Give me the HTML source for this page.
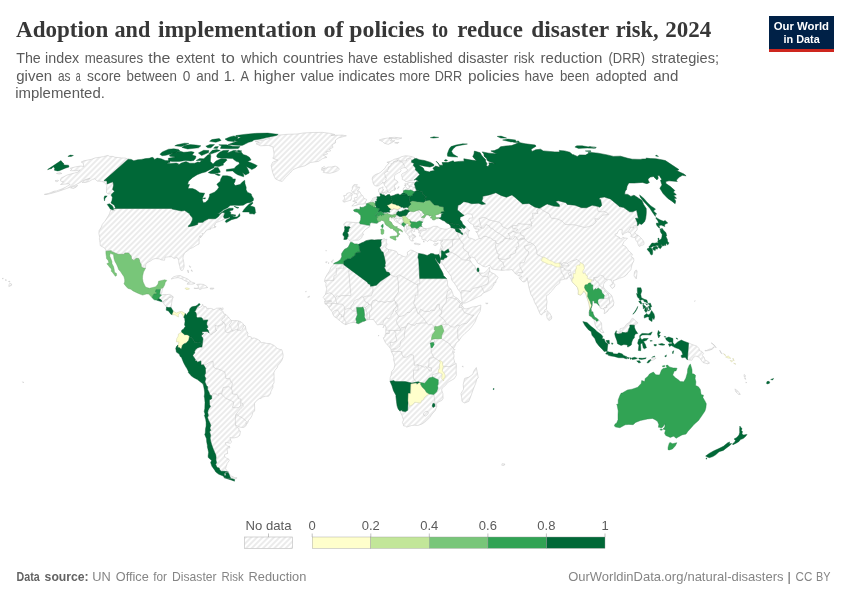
<!DOCTYPE html><html><head><meta charset="utf-8"><title>Adoption and implementation of policies to reduce disaster risk, 2024</title>
<style>html,body{margin:0;padding:0;background:#fff}svg{display:block;will-change:transform}text{white-space:pre}</style></head><body>
<svg width="850" height="600" viewBox="0 0 850 600">
<defs><pattern id="h" patternUnits="userSpaceOnUse" width="4.00" height="4.00" patternTransform="translate(-0.50,0) rotate(-45)"><rect width="4.00" height="4.00" fill="#fff"/><path d="M-1,2.000L5.00,2.000" stroke="#dcdcdc" stroke-width="1.1"/></pattern></defs>
<rect width="850" height="600" fill="#fff"/>
<text x="16.0" y="37.0" font-family="'Liberation Serif', serif" font-size="24" font-weight="bold" fill="#373737" text-anchor="start" textLength="92.2" lengthAdjust="spacingAndGlyphs">Adoption</text>
<text x="114.5" y="37.0" font-family="'Liberation Serif', serif" font-size="24" font-weight="bold" fill="#373737" text-anchor="start" textLength="35.7" lengthAdjust="spacingAndGlyphs">and</text>
<text x="157.9" y="37.0" font-family="'Liberation Serif', serif" font-size="24" font-weight="bold" fill="#373737" text-anchor="start" textLength="158.4" lengthAdjust="spacingAndGlyphs">implementation</text>
<text x="323.5" y="37.0" font-family="'Liberation Serif', serif" font-size="24" font-weight="bold" fill="#373737" text-anchor="start" textLength="20.1" lengthAdjust="spacingAndGlyphs">of</text>
<text x="349.3" y="37.0" font-family="'Liberation Serif', serif" font-size="24" font-weight="bold" fill="#373737" text-anchor="start" textLength="75.2" lengthAdjust="spacingAndGlyphs">policies</text>
<text x="431.8" y="37.0" font-family="'Liberation Serif', serif" font-size="24" font-weight="bold" fill="#373737" text-anchor="start" textLength="16.4" lengthAdjust="spacingAndGlyphs">to</text>
<text x="457.2" y="37.0" font-family="'Liberation Serif', serif" font-size="24" font-weight="bold" fill="#373737" text-anchor="start" textLength="65.6" lengthAdjust="spacingAndGlyphs">reduce</text>
<text x="531.2" y="37.0" font-family="'Liberation Serif', serif" font-size="24" font-weight="bold" fill="#373737" text-anchor="start" textLength="78.0" lengthAdjust="spacingAndGlyphs">disaster</text>
<text x="615.7" y="37.0" font-family="'Liberation Serif', serif" font-size="24" font-weight="bold" fill="#373737" text-anchor="start" textLength="42.9" lengthAdjust="spacingAndGlyphs">risk,</text>
<text x="665.2" y="37.0" font-family="'Liberation Serif', serif" font-size="24" font-weight="bold" fill="#373737" text-anchor="start" textLength="46.1" lengthAdjust="spacingAndGlyphs">2024</text>
<text x="16.2" y="62.7" font-family="'Liberation Sans', sans-serif" font-size="15" font-weight="normal" fill="#5b5b5b" text-anchor="start" textLength="24.6" lengthAdjust="spacingAndGlyphs">The</text>
<text x="45.1" y="62.7" font-family="'Liberation Sans', sans-serif" font-size="15" font-weight="normal" fill="#5b5b5b" text-anchor="start" textLength="34.1" lengthAdjust="spacingAndGlyphs">index</text>
<text x="84.8" y="62.7" font-family="'Liberation Sans', sans-serif" font-size="15" font-weight="normal" fill="#5b5b5b" text-anchor="start" textLength="58.3" lengthAdjust="spacingAndGlyphs">measures</text>
<text x="148.3" y="62.7" font-family="'Liberation Sans', sans-serif" font-size="15" font-weight="normal" fill="#5b5b5b" text-anchor="start" textLength="22.2" lengthAdjust="spacingAndGlyphs">the</text>
<text x="176.0" y="62.7" font-family="'Liberation Sans', sans-serif" font-size="15" font-weight="normal" fill="#5b5b5b" text-anchor="start" textLength="38.7" lengthAdjust="spacingAndGlyphs">extent</text>
<text x="221.2" y="62.7" font-family="'Liberation Sans', sans-serif" font-size="15" font-weight="normal" fill="#5b5b5b" text-anchor="start" textLength="13.6" lengthAdjust="spacingAndGlyphs">to</text>
<text x="241.1" y="62.7" font-family="'Liberation Sans', sans-serif" font-size="15" font-weight="normal" fill="#5b5b5b" text-anchor="start" textLength="36.6" lengthAdjust="spacingAndGlyphs">which</text>
<text x="283.0" y="62.7" font-family="'Liberation Sans', sans-serif" font-size="15" font-weight="normal" fill="#5b5b5b" text-anchor="start" textLength="60.6" lengthAdjust="spacingAndGlyphs">countries</text>
<text x="347.9" y="62.7" font-family="'Liberation Sans', sans-serif" font-size="15" font-weight="normal" fill="#5b5b5b" text-anchor="start" textLength="30.0" lengthAdjust="spacingAndGlyphs">have</text>
<text x="383.2" y="62.7" font-family="'Liberation Sans', sans-serif" font-size="15" font-weight="normal" fill="#5b5b5b" text-anchor="start" textLength="69.5" lengthAdjust="spacingAndGlyphs">established</text>
<text x="458.1" y="62.7" font-family="'Liberation Sans', sans-serif" font-size="15" font-weight="normal" fill="#5b5b5b" text-anchor="start" textLength="50.1" lengthAdjust="spacingAndGlyphs">disaster</text>
<text x="513.8" y="62.7" font-family="'Liberation Sans', sans-serif" font-size="15" font-weight="normal" fill="#5b5b5b" text-anchor="start" textLength="20.5" lengthAdjust="spacingAndGlyphs">risk</text>
<text x="540.6" y="62.7" font-family="'Liberation Sans', sans-serif" font-size="15" font-weight="normal" fill="#5b5b5b" text-anchor="start" textLength="61.8" lengthAdjust="spacingAndGlyphs">reduction</text>
<text x="608.5" y="62.7" font-family="'Liberation Sans', sans-serif" font-size="15" font-weight="normal" fill="#5b5b5b" text-anchor="start" textLength="36.6" lengthAdjust="spacingAndGlyphs">(DRR)</text>
<text x="651.6" y="62.7" font-family="'Liberation Sans', sans-serif" font-size="15" font-weight="normal" fill="#5b5b5b" text-anchor="start" textLength="67.4" lengthAdjust="spacingAndGlyphs">strategies;</text>
<text x="16.2" y="80.5" font-family="'Liberation Sans', sans-serif" font-size="15" font-weight="normal" fill="#5b5b5b" text-anchor="start" textLength="35.9" lengthAdjust="spacingAndGlyphs">given</text>
<text x="58.0" y="80.5" font-family="'Liberation Sans', sans-serif" font-size="15" font-weight="normal" fill="#5b5b5b" text-anchor="start" textLength="12.5" lengthAdjust="spacingAndGlyphs">as</text>
<text x="75.8" y="80.5" font-family="'Liberation Sans', sans-serif" font-size="15" font-weight="normal" fill="#5b5b5b" text-anchor="start" textLength="4.9" lengthAdjust="spacingAndGlyphs">a</text>
<text x="87.1" y="80.5" font-family="'Liberation Sans', sans-serif" font-size="15" font-weight="normal" fill="#5b5b5b" text-anchor="start" textLength="33.9" lengthAdjust="spacingAndGlyphs">score</text>
<text x="126.6" y="80.5" font-family="'Liberation Sans', sans-serif" font-size="15" font-weight="normal" fill="#5b5b5b" text-anchor="start" textLength="50.3" lengthAdjust="spacingAndGlyphs">between</text>
<text x="182.8" y="80.5" font-family="'Liberation Sans', sans-serif" font-size="15" font-weight="normal" fill="#5b5b5b" text-anchor="start" textLength="7.6" lengthAdjust="spacingAndGlyphs">0</text>
<text x="196.3" y="80.5" font-family="'Liberation Sans', sans-serif" font-size="15" font-weight="normal" fill="#5b5b5b" text-anchor="start" textLength="22.4" lengthAdjust="spacingAndGlyphs">and</text>
<text x="223.7" y="80.5" font-family="'Liberation Sans', sans-serif" font-size="15" font-weight="normal" fill="#5b5b5b" text-anchor="start" textLength="11.9" lengthAdjust="spacingAndGlyphs">1.</text>
<text x="240.6" y="80.5" font-family="'Liberation Sans', sans-serif" font-size="15" font-weight="normal" fill="#5b5b5b" text-anchor="start" textLength="8.5" lengthAdjust="spacingAndGlyphs">A</text>
<text x="253.8" y="80.5" font-family="'Liberation Sans', sans-serif" font-size="15" font-weight="normal" fill="#5b5b5b" text-anchor="start" textLength="41.3" lengthAdjust="spacingAndGlyphs">higher</text>
<text x="300.5" y="80.5" font-family="'Liberation Sans', sans-serif" font-size="15" font-weight="normal" fill="#5b5b5b" text-anchor="start" textLength="33.6" lengthAdjust="spacingAndGlyphs">value</text>
<text x="338.5" y="80.5" font-family="'Liberation Sans', sans-serif" font-size="15" font-weight="normal" fill="#5b5b5b" text-anchor="start" textLength="56.4" lengthAdjust="spacingAndGlyphs">indicates</text>
<text x="399.3" y="80.5" font-family="'Liberation Sans', sans-serif" font-size="15" font-weight="normal" fill="#5b5b5b" text-anchor="start" textLength="30.8" lengthAdjust="spacingAndGlyphs">more</text>
<text x="434.7" y="80.5" font-family="'Liberation Sans', sans-serif" font-size="15" font-weight="normal" fill="#5b5b5b" text-anchor="start" textLength="27.5" lengthAdjust="spacingAndGlyphs">DRR</text>
<text x="468.0" y="80.5" font-family="'Liberation Sans', sans-serif" font-size="15" font-weight="normal" fill="#5b5b5b" text-anchor="start" textLength="51.4" lengthAdjust="spacingAndGlyphs">policies</text>
<text x="524.5" y="80.5" font-family="'Liberation Sans', sans-serif" font-size="15" font-weight="normal" fill="#5b5b5b" text-anchor="start" textLength="29.3" lengthAdjust="spacingAndGlyphs">have</text>
<text x="560.0" y="80.5" font-family="'Liberation Sans', sans-serif" font-size="15" font-weight="normal" fill="#5b5b5b" text-anchor="start" textLength="29.4" lengthAdjust="spacingAndGlyphs">been</text>
<text x="595.6" y="80.5" font-family="'Liberation Sans', sans-serif" font-size="15" font-weight="normal" fill="#5b5b5b" text-anchor="start" textLength="51.4" lengthAdjust="spacingAndGlyphs">adopted</text>
<text x="653.2" y="80.5" font-family="'Liberation Sans', sans-serif" font-size="15" font-weight="normal" fill="#5b5b5b" text-anchor="start" textLength="25.2" lengthAdjust="spacingAndGlyphs">and</text>
<text x="15.2" y="98.3" font-family="'Liberation Sans', sans-serif" font-size="15" font-weight="normal" fill="#5b5b5b" text-anchor="start" textLength="89.7" lengthAdjust="spacingAndGlyphs">implemented.</text>
<rect x="769" y="16" width="65" height="36" fill="#002147"/><rect x="769" y="49" width="65" height="3" fill="#ce261e"/>
<text x="801.4" y="30.2" font-family="'Liberation Sans', sans-serif" font-size="11.5" font-weight="bold" fill="#fff" text-anchor="middle" textLength="55.2" lengthAdjust="spacingAndGlyphs">Our World</text>
<text x="801.6" y="42.8" font-family="'Liberation Sans', sans-serif" font-size="11.5" font-weight="bold" fill="#fff" text-anchor="middle" textLength="36.3" lengthAdjust="spacingAndGlyphs">in Data</text>
<g id="map">
<g fill="url(#h)" stroke="#c2c2c2" stroke-width="0.5" stroke-linejoin="round" fill-rule="evenodd">
<path d="M114.5,208.5L114.5,211.0L113.9,210.3L110.7,210.0L109.4,213.8L108.5,215.6L104.9,221.3L102.3,224.4L101.4,227.0L99.1,230.6L98.9,233.4L99.4,236.0L99.8,237.3L99.3,238.9L99.7,240.5L100.0,242.8L100.3,245.7L102.8,247.0L104.3,247.8L105.9,249.9L105.9,251.2L111.3,250.7L110.9,251.2L118.0,254.3L124.4,254.3L124.8,253.0L128.6,253.0L131.2,256.1L131.5,258.9L133.9,260.4L135.9,258.4L138.3,258.3L139.5,260.1L139.8,262.2L141.1,264.2L141.3,267.1L143.2,268.0L145.5,268.3L145.7,264.8L147.0,262.9L150.8,260.8L152.9,259.3L155.1,258.5L159.1,258.8L161.0,259.8L164.5,260.3L165.0,257.2L168.4,256.9L171.7,256.7L174.0,258.5L177.1,257.4L178.7,260.1L178.8,262.9L179.8,266.3L180.1,268.4L181.1,270.4L182.7,270.3L183.7,268.2L184.2,266.1L183.7,261.9L182.9,258.2L183.2,255.9L184.5,253.3L185.1,252.5L187.7,250.7L190.2,248.6L192.9,247.5L196.1,245.4L199.1,244.0L199.1,240.5L199.2,239.6L199.2,237.1L200.3,235.5L200.3,237.9L202.2,235.8L202.5,234.7L202.1,233.2L203.1,234.2L205.4,232.1L206.2,230.3L210.8,229.0L209.9,228.4L212.2,228.0L213.1,227.7L214.2,227.7L215.5,227.3L216.0,226.3L214.6,227.0L214.6,225.8L214.0,225.7L215.1,224.8L215.3,223.6L216.7,222.3L219.6,221.3L221.5,220.5L224.4,219.2L224.7,218.4L223.5,216.9L224.7,213.3L224.0,212.6L222.1,212.6L219.8,214.6L218.5,216.4L216.6,217.9L215.3,218.7L208.6,218.7L204.6,220.8L203.0,222.3L198.3,222.6L197.7,223.6L197.6,224.4L192.9,225.9L188.4,226.7L188.5,225.7L190.5,223.9L192.4,220.0L192.6,217.9L191.3,216.6L191.0,215.9L190.0,214.9L189.6,213.8L184.7,210.5L181.5,211.0L179.1,210.5L176.9,210.0L174.1,209.5L172.1,209.0L171.3,208.5L114.5,208.5Z"/>
<path d="M128.2,159.2L125.4,158.1L121.6,157.9L118.0,157.5L115.0,157.3L113.0,156.4L109.7,156.4L107.9,155.4L103.6,156.6L99.4,157.3L95.1,157.9L91.2,159.4L83.9,160.8L81.2,162.0L82.3,162.8L83.6,163.7L83.4,165.0L83.9,166.6L80.8,166.0L75.8,166.8L70.3,168.2L71.5,169.3L70.3,170.6L71.6,170.7L75.8,170.7L80.2,170.0L77.9,172.1L74.6,173.0L70.8,174.0L67.0,175.1L63.3,177.0L61.5,177.7L60.7,179.1L60.4,180.1L60.9,181.3L63.3,181.5L62.6,183.0L60.5,184.5L63.9,184.2L68.2,183.7L70.2,184.4L65.8,187.1L62.2,188.8L56.4,191.0L54.2,191.2L48.4,193.5L44.3,194.4L47.0,194.4L50.9,193.5L56.3,192.0L60.9,190.5L66.6,188.5L71.6,186.6L75.0,185.1L77.9,183.7L82.1,181.3L85.2,179.6L89.8,178.4L85.6,180.1L82.2,182.5L85.3,182.5L89.3,181.4L92.4,179.4L94.8,178.9L95.8,179.6L97.1,181.1L101.4,181.3L103.4,182.0L104.4,182.5L105.9,184.2L106.9,185.6L106.4,188.5L106.5,190.5L106.5,192.7L108.3,193.9L111.8,193.9L114.5,191.2L112.6,189.5L113.6,185.1L112.9,181.8L107.1,183.9L107.0,181.1L104.0,180.6L128.2,159.2ZM70.6,187.8L73.3,188.5L76.3,187.1L77.6,185.4L73.4,186.6ZM56.5,173.5L59.1,174.0L61.9,173.5L60.1,172.6ZM55.0,180.8L56.9,181.8L58.6,180.6L57.4,180.3Z"/>
<path d="M8.8,286.5L11.4,285.4L11.7,284.1L9.9,283.1L9.1,284.6ZM8.5,281.5L9.9,282.0L9.7,281.2ZM5.2,280.2L6.4,280.4L6.0,279.4ZM2.2,278.6L3.2,278.9L3.2,278.1Z"/>
<path d="M160.3,289.6L160.5,289.1L162.0,287.8L162.9,288.0L162.2,290.1L161.8,292.7L160.3,294.6L159.6,294.6L160.3,289.6Z"/>
<path d="M158.8,298.5L159.3,297.2L161.6,295.1L163.0,294.6L166.9,294.6L169.2,294.3L171.4,295.3L173.2,296.9L169.1,297.4L167.1,299.8L164.7,300.0L162.9,302.3L162.4,301.2L162.1,301.1L160.7,299.5L158.8,298.5Z"/>
<path d="M162.9,302.3L164.7,300.0L167.1,299.8L169.1,297.4L173.2,296.9L172.3,299.5L171.6,303.4L171.1,307.6L168.3,307.5L166.5,307.1L164.4,304.5L162.9,302.3Z"/>
<path d="M171.2,279.0L173.7,276.8L176.5,275.9L180.1,275.6L183.7,277.3L187.6,278.9L191.5,282.0L195.1,283.3L193.1,284.1L187.0,284.2L188.6,282.3L185.5,281.0L181.3,278.6L178.1,277.6L174.6,278.1Z"/>
<path d="M193.9,288.2L196.2,288.5L198.9,287.5L197.9,285.7L196.7,284.4L199.9,284.1L203.3,284.4L205.9,285.7L207.8,287.5L205.2,288.0L202.4,288.3L200.0,289.6L198.3,288.5Z"/>
<path d="M210.4,288.0L214.0,288.2L213.3,289.1L210.3,289.1Z"/>
<path d="M187.4,270.3L188.4,272.9L188.3,270.3ZM189.2,265.8L190.9,266.9L190.3,267.6ZM191.0,270.0L192.2,271.6L191.9,270.0Z"/>
<path d="M221.0,309.7L223.0,309.7L223.1,307.9L221.5,308.1Z"/>
<path d="M255.2,141.5L264.0,140.0L270.0,138.1L268.2,136.9L276.7,135.3L287.2,134.3L297.1,134.0L303.3,133.0L311.7,132.5L322.6,132.4L330.4,133.4L334.8,134.5L331.1,135.4L342.3,135.1L346.4,135.8L338.9,137.8L335.5,140.0L335.5,142.8L332.0,144.8L333.0,147.4L329.4,149.2L330.7,150.9L325.7,151.9L327.6,154.0L323.3,155.1L326.9,157.3L322.5,158.6L318.5,161.4L310.6,162.5L304.6,165.9L298.1,167.5L293.0,169.6L290.2,173.0L285.4,177.7L282.2,181.5L279.5,180.8L275.5,178.9L273.9,175.8L272.6,172.3L272.0,169.6L271.2,165.5L272.6,162.3L277.8,160.1L272.8,158.3L273.9,156.2L274.0,153.0L273.4,149.8L272.9,146.8L268.5,145.4L260.6,145.8L256.1,143.8L259.4,142.6Z"/>
<path d="M228.4,472.9L229.7,474.5L231.8,476.3L234.5,477.5L237.1,477.9L235.1,478.9L230.8,478.5Z"/>
<path d="M199.6,305.1L198.2,306.8L198.8,307.6L200.2,307.4L201.9,306.3L202.7,304.2L203.0,306.1L206.2,306.8L206.6,308.4L209.5,308.4L211.4,308.4L213.8,309.7L215.5,308.9L216.4,308.3L219.0,308.1L221.0,308.1L219.4,309.5L220.0,310.0L221.6,310.2L223.2,311.8L223.6,313.6L225.6,314.4L228.5,317.0L229.2,318.3L231.5,320.6L234.4,320.6L236.2,320.6L238.8,321.0L241.3,322.0L242.6,323.3L244.1,325.3L245.3,325.9L246.2,330.6L248.0,333.2L247.3,335.3L247.8,336.1L251.2,336.9L251.5,338.5L254.0,337.9L257.0,339.0L260.0,340.8L261.0,342.9L263.3,342.4L266.7,343.4L270.0,343.6L273.2,345.0L274.4,345.8L277.2,348.4L279.7,349.4L281.8,349.7L282.6,352.3L283.1,354.8L282.9,357.5L281.8,360.4L279.8,363.3L278.0,365.4L277.0,368.0L275.0,370.1L273.9,372.7L274.1,376.6L274.1,380.5L274.0,382.9L272.9,384.5L272.9,387.6L271.9,389.4L270.7,392.0L270.6,393.6L268.5,396.2L265.8,396.2L262.7,397.0L261.0,398.3L259.0,398.8L255.6,401.7L254.5,403.5L254.5,405.9L254.7,408.2L254.6,410.9L252.8,412.7L251.9,415.8L250.3,418.4L248.6,420.3L247.7,422.9L246.4,424.3L245.8,426.0L243.7,427.4L240.8,427.3L237.1,426.1L235.5,424.7L235.9,426.5L238.9,428.4L239.1,430.7L240.5,431.2L239.7,435.4L237.5,437.0L234.9,437.7L231.7,438.0L229.9,437.5L230.7,440.1L231.5,442.2L230.3,443.2L227.6,442.7L225.3,442.7L226.0,444.5L228.0,446.6L229.4,446.0L229.9,447.8L228.1,448.1L227.1,448.4L227.3,450.9L227.7,453.5L224.8,454.3L224.4,456.1L226.9,458.6L228.6,458.9L229.2,460.6L227.0,463.7L226.9,464.5L226.1,466.8L225.5,468.8L226.7,470.3L228.5,472.2L225.0,471.3L221.2,471.3L219.9,470.0L219.1,468.0L217.1,467.5L215.6,464.5L216.6,462.7L215.9,459.9L216.1,457.6L215.8,455.1L214.7,452.5L213.5,449.7L212.5,447.1L211.6,444.5L210.6,441.1L210.1,438.0L210.7,435.4L209.5,431.7L210.7,430.4L209.9,428.1L210.8,425.5L209.7,422.4L208.6,420.5L207.5,417.4L208.4,415.3L207.7,412.7L208.0,410.6L209.0,408.5L210.5,406.4L209.6,404.8L209.4,402.0L209.4,400.1L211.7,398.8L211.6,395.7L209.9,394.9L209.0,392.3L207.5,389.2L207.7,386.8L206.4,385.5L204.9,381.8L205.8,378.4L204.6,376.1L205.0,374.3L205.6,373.2L205.4,369.4L205.8,368.8L203.5,364.7L201.1,364.9L200.9,360.9L197.3,362.2L196.8,360.9L194.9,360.7L195.4,359.5L192.8,355.7L193.5,354.1L194.8,353.1L194.5,351.8L195.2,350.0L197.4,347.9L199.9,347.1L201.9,347.1L203.0,339.0L202.5,337.4L201.5,336.6L201.5,334.7L203.0,334.3L203.5,333.5L202.0,333.4L202.0,331.7L206.5,331.5L208.3,331.7L208.9,333.0L208.1,330.1L206.6,328.8L207.9,327.2L206.7,324.3L206.9,322.3L207.8,319.9L203.3,320.2L202.0,317.9L200.4,317.6L197.4,317.8L196.5,316.8L196.4,314.2L195.8,312.3L194.5,312.1L195.4,310.5L197.2,307.1L199.6,305.1Z"/>
<path d="M351.8,205.8L353.2,205.9L356.0,205.4L358.2,204.6L360.6,204.1L363.8,204.1L366.0,203.1L365.0,202.2L366.3,200.7L366.6,199.4L364.0,198.4L363.4,197.2L362.8,195.7L360.9,194.3L360.1,192.2L359.2,191.2L357.1,191.0L358.2,190.3L359.2,188.5L359.8,187.3L357.0,186.8L355.5,187.1L357.4,184.7L353.9,184.7L352.3,187.1L352.4,189.3L351.4,190.3L352.6,192.5L354.0,191.7L353.9,193.7L356.4,193.7L357.4,195.7L357.1,197.4L354.6,197.7L354.2,198.9L355.1,200.2L352.7,201.2L354.9,201.9L357.0,202.7L354.8,202.9L353.0,204.9Z"/>
<path d="M351.1,195.7L351.5,197.7L351.0,200.2L349.6,200.5L346.8,201.4L343.8,202.2L342.7,200.7L344.5,199.4L344.6,197.7L343.6,195.7L346.5,195.2L346.8,193.5L349.2,192.7L351.5,193.0L352.6,194.4L352.5,195.2Z"/>
<path d="M323.1,172.3L327.0,173.0L329.8,173.3L333.9,172.3L337.4,170.9L339.4,169.3L337.9,167.3L335.2,166.1L331.6,167.0L328.0,167.0L325.7,168.4L324.3,166.4L321.4,168.2L324.8,168.6L321.1,169.8L324.4,170.9Z"/>
<path d="M384.7,191.7L386.1,190.7L387.3,190.9L387.4,192.0L387.0,192.8L386.3,193.6L384.7,193.0ZM382.0,192.2L383.7,192.1L384.0,193.2L382.5,193.3ZM414.4,243.3L415.7,243.1L419.3,243.9L420.4,244.1L418.7,244.8L416.3,244.4L414.3,244.0ZM433.5,244.6L435.1,245.7L437.2,244.6L438.3,242.9L436.2,243.7L434.7,243.7ZM413.0,234.5L415.0,235.3L415.9,237.0L413.7,235.3ZM423.3,241.0L424.2,241.0L423.9,242.3ZM397.5,188.5L398.9,186.4L398.7,187.8ZM394.5,190.5L395.5,187.8L395.3,189.0ZM404.4,185.4L406.2,184.7L405.8,186.1ZM404.7,183.9L406.0,183.7L405.4,184.4Z"/>
<path d="M379.2,140.0L383.4,138.7L387.6,138.1L392.1,138.9L390.4,140.9L394.8,140.7L391.6,142.8L388.2,144.4L384.2,143.2L382.4,141.5ZM388.9,137.8L394.5,137.3L401.9,138.0L398.0,139.2L391.9,138.3ZM394.6,142.8L398.9,142.3L397.8,143.4Z"/>
<path d="M350.3,242.6L351.7,242.3L354.7,244.0L356.8,243.9L358.4,244.4L361.8,242.8L363.4,242.2L366.0,240.7L369.8,239.9L371.8,239.7L374.2,240.1L378.1,239.7L379.9,239.7L381.8,239.6L384.4,238.6L385.4,239.7L387.0,239.2L386.1,241.0L386.3,242.6L387.2,244.1L386.6,245.4L385.3,247.5L386.6,248.0L387.5,249.1L388.5,249.5L392.2,250.1L396.4,251.4L397.8,254.1L399.8,254.6L404.1,256.7L405.7,256.9L407.5,255.1L407.3,252.2L410.6,250.1L412.9,250.5L415.9,252.2L418.6,253.4L423.3,254.2L427.2,255.5L429.2,254.6L430.2,253.8L431.5,253.5L433.4,253.8L434.5,254.4L435.8,254.8L437.8,254.7L438.7,254.3L440.7,259.0L440.3,260.6L440.0,262.9L439.6,263.7L438.0,262.3L436.5,260.3L435.3,257.8L435.1,259.0L435.9,260.6L437.2,262.4L438.7,264.9L440.0,267.9L441.6,270.6L443.1,273.7L443.4,275.5L446.6,278.6L447.4,281.2L447.6,284.9L448.2,287.0L451.0,289.1L452.3,292.2L453.3,295.3L454.6,296.9L457.4,298.2L460.3,301.6L461.1,302.1L462.1,302.9L462.5,304.7L461.2,305.8L462.2,305.9L462.4,306.2L464.3,308.8L466.6,308.8L470.0,307.9L472.2,307.0L476.1,306.6L479.0,305.5L480.9,305.1L480.6,308.9L480.0,311.5L477.8,315.2L476.5,318.3L475.0,322.1L472.5,325.7L470.0,328.8L467.9,330.8L464.8,333.5L461.4,337.0L459.1,340.4L457.6,342.1L456.0,343.2L455.7,344.5L454.6,346.7L453.6,348.3L452.6,351.8L453.7,353.9L454.1,356.2L453.6,358.3L454.0,359.4L454.6,362.2L455.5,363.0L456.1,363.6L456.4,366.2L456.1,370.0L456.3,374.0L456.3,375.4L454.2,378.7L449.7,381.3L447.2,382.9L445.7,385.2L442.2,388.0L441.6,389.9L442.5,392.6L442.9,393.6L443.1,398.4L441.9,400.4L438.9,401.8L436.3,403.9L436.8,406.3L435.4,410.3L432.0,414.1L429.9,417.3L425.6,421.6L424.4,422.4L422.1,423.9L419.3,425.0L417.4,425.5L414.3,425.2L411.5,425.5L406.7,427.1L405.3,426.0L403.6,425.9L403.4,424.7L402.4,422.5L403.5,420.0L402.1,415.8L400.7,412.6L399.8,410.9L398.2,409.0L397.1,405.8L396.5,401.4L395.9,396.1L396.0,395.3L393.5,390.7L392.0,385.8L390.0,381.2L390.2,377.4L390.9,375.8L391.8,371.4L393.9,369.0L394.9,364.9L393.5,359.2L394.0,358.1L392.7,354.1L391.4,351.8L391.3,351.1L390.9,349.2L390.5,348.7L388.8,346.4L386.3,343.7L385.3,342.4L384.7,341.1L383.3,337.8L384.7,337.2L385.0,335.1L385.8,333.5L385.8,330.0L386.0,328.3L385.6,325.7L383.9,325.7L382.8,324.3L379.3,324.6L377.3,324.9L375.6,322.5L373.6,319.6L371.0,319.4L369.4,319.5L367.0,319.9L366.0,320.2L364.8,321.0L362.7,321.6L360.3,322.8L358.3,323.7L356.0,322.8L354.0,322.4L350.7,322.8L348.0,323.7L345.8,324.7L342.3,323.0L340.0,320.7L338.3,319.6L336.7,318.1L334.4,316.8L332.7,313.9L332.6,312.5L331.7,311.3L329.7,308.7L328.8,307.5L327.4,305.1L324.9,303.8L324.8,302.0L324.7,301.2L325.3,300.6L324.1,298.5L323.2,297.6L324.6,295.3L325.5,294.2L326.8,288.8L325.7,285.4L326.2,283.3L324.6,281.8L324.9,278.9L326.4,275.7L327.3,274.2L329.5,271.0L330.7,267.8L333.2,265.3L333.7,263.8L334.4,263.1L337.9,261.6L340.5,259.4L341.8,256.7L341.6,253.8L342.8,251.7L344.6,249.2L346.6,248.3L348.2,247.3L349.8,244.1L350.3,242.6Z"/>
<path d="M476.3,367.5L478.3,377.7L476.8,379.2L475.6,383.5L473.1,389.7L471.3,394.9L468.8,401.4L464.6,403.0L462.0,401.4L461.6,397.1L460.9,393.6L463.6,389.2L463.2,384.5L464.6,378.4L468.9,377.1L472.7,374.3L473.8,371.1Z"/>
<path d="M502.0,463.7L504.9,464.0L504.2,465.3L501.8,465.3ZM462.3,366.4L463.0,365.9L463.0,367.2ZM325.5,262.2L327.1,261.6L326.4,262.9ZM328.0,262.9L328.9,262.7L328.6,263.6ZM331.4,261.4L332.3,261.1L332.0,262.7ZM332.5,260.3L333.4,259.8L333.2,260.6ZM307.6,297.2L309.5,296.1L309.2,297.2ZM305.5,291.7L306.2,291.2L306.2,291.9ZM378.2,336.1L378.8,335.1L378.7,335.8ZM382.8,327.5L383.7,326.3L383.5,327.5ZM485.6,303.2L488.1,303.2L487.0,304.0ZM453.5,351.8L454.0,351.3L454.2,352.8ZM454.7,349.2L454.9,350.0L454.6,350.2ZM325.9,250.4L326.5,250.7L325.6,250.8Z"/>
<path d="M414.4,158.8L414.5,157.5L410.8,156.4L408.5,156.0L405.4,155.8L401.8,156.6L399.6,157.7L397.2,158.6L394.8,159.1L392.5,160.3L390.2,161.4L386.9,162.3L389.2,163.0L387.8,164.3L385.7,166.8L385.0,168.4L382.9,170.0L380.9,172.1L378.9,173.3L375.7,174.4L372.8,176.5L372.1,178.9L372.8,180.8L373.0,183.0L373.6,183.9L374.0,184.9L375.6,185.9L376.5,186.1L378.2,185.9L379.1,185.4L380.9,183.9L382.7,183.0L382.8,181.8L383.4,183.0L384.0,183.5L384.3,185.1L385.6,186.8L386.9,188.8L387.4,190.5L387.9,192.0L388.9,192.6L390.5,192.5L390.7,191.2L393.0,190.5L394.3,189.3L394.4,186.6L394.8,184.7L396.5,183.9L398.2,182.3L396.8,180.6L394.7,179.6L394.4,177.3L394.5,175.6L396.1,174.2L398.4,172.8L400.1,172.1L401.1,170.5L400.4,169.6L401.9,168.2L403.9,167.7L405.2,167.7L407.7,169.6L406.7,171.4L404.1,172.8L401.8,174.0L401.6,175.8L402.3,177.7L402.2,179.4L404.1,180.2L405.7,181.7L409.2,180.9L412.6,180.2L414.2,180.0L415.7,179.6L418.1,181.1L418.9,181.4L416.7,181.5L415.2,182.6L411.3,182.3L409.1,182.6L406.8,183.2L407.0,184.4L409.1,185.3L409.0,186.4L409.3,188.1L408.8,188.4L407.2,188.5L405.7,186.7L403.9,187.6L403.1,189.0L403.4,190.8L403.6,192.7L401.8,193.6L401.1,194.8L399.3,194.9L398.6,193.9L397.8,193.9L395.1,194.7L394.2,195.3L390.8,196.2L390.2,195.8L389.5,194.4L387.4,194.8L386.7,195.6L385.4,196.1L384.4,196.1L384.5,194.9L382.6,194.8L381.4,193.9L381.7,193.0L382.0,192.2L382.7,190.5L383.9,189.9L382.8,189.3L382.7,188.5L383.1,186.8L381.3,187.8L379.5,188.3L378.6,189.3L378.7,191.0L378.7,192.1L379.7,192.7L379.9,193.7L380.3,195.2L380.7,195.9L379.9,196.2L379.8,196.9L378.8,196.7L376.8,196.8L377.3,197.8L375.3,197.3L373.8,197.9L372.5,198.5L372.2,199.7L371.3,200.9L370.7,201.4L369.8,202.5L368.3,203.2L366.4,203.7L366.2,205.7L363.4,207.2L361.0,207.6L360.0,206.8L360.0,209.4L359.1,209.4L356.1,209.0L353.5,210.0L354.4,211.5L357.5,212.3L358.7,213.3L360.7,215.6L360.9,217.2L360.7,219.7L359.4,222.8L355.3,222.6L351.1,222.2L346.5,221.9L343.7,223.9L344.5,226.8L344.8,229.3L344.3,231.4L343.1,233.2L342.9,234.9L343.5,235.8L344.3,236.8L344.2,238.1L343.8,239.4L345.9,239.4L347.2,238.9L348.1,238.9L349.4,239.9L349.6,240.7L351.1,242.0L351.6,241.6L353.7,240.2L355.6,240.2L358.4,240.2L359.1,239.7L361.7,237.9L362.1,236.0L363.6,234.9L362.6,232.9L365.1,229.8L367.8,228.0L369.9,226.7L369.9,225.3L369.7,223.6L371.5,222.6L374.5,223.1L377.0,223.3L378.8,221.8L380.3,221.3L381.7,220.2L384.0,221.1L384.7,222.6L385.2,224.0L386.5,225.4L387.9,226.2L388.9,227.1L390.7,228.4L392.3,228.4L393.4,229.4L393.5,230.1L394.5,229.9L395.1,231.1L396.2,231.5L397.3,233.2L397.8,234.5L397.1,235.1L396.8,236.3L396.8,236.8L397.8,237.0L398.7,235.0L399.9,234.2L398.3,232.4L398.5,231.4L399.5,230.3L401.2,231.1L402.3,232.1L402.5,231.4L401.4,229.9L399.2,228.9L396.8,227.7L397.3,226.7L395.0,226.7L392.5,224.6L391.4,222.3L388.8,220.6L389.1,219.0L388.8,217.7L390.2,216.9L391.6,217.2L391.3,217.5L391.1,218.7L392.0,219.2L392.5,218.4L392.9,217.9L394.0,218.7L394.3,220.0L394.8,220.8L396.3,222.0L397.4,222.6L398.7,223.3L400.1,224.1L401.2,224.8L401.9,225.1L402.9,225.8L404.1,226.8L404.4,228.2L404.4,230.6L405.5,231.9L405.8,232.4L407.4,234.2L408.4,235.9L409.7,236.0L409.0,237.3L409.8,239.4L410.1,239.9L411.7,241.0L413.4,240.9L412.3,238.6L413.8,238.4L412.6,237.1L414.1,237.0L414.9,237.7L414.7,236.3L413.1,235.3L412.1,233.4L411.3,231.6L411.8,230.1L412.9,231.0L413.6,231.7L415.1,231.2L413.9,230.1L414.8,229.2L418.1,229.4L418.4,229.7L418.9,231.5L419.9,230.6L421.4,229.2L424.5,229.0L424.7,229.0L426.6,229.7L424.7,230.5L422.5,230.7L421.2,230.6L419.9,230.8L418.8,231.7L418.7,232.9L420.6,233.2L420.3,234.2L419.6,235.1L419.6,236.2L420.9,235.8L421.8,237.2L421.8,238.5L422.3,239.4L424.2,239.8L426.1,240.3L427.3,241.5L429.3,239.9L429.5,239.8L432.4,240.7L434.4,241.9L436.8,241.3L437.9,239.9L440.1,240.5L441.3,240.5L441.0,242.2L440.8,243.3L441.4,245.6L440.8,247.5L440.1,249.6L439.9,250.4L439.7,252.4L439.3,253.7L438.7,254.3L440.7,259.0L440.8,258.9L440.8,259.4L440.2,262.9L441.6,262.8L442.9,264.6L444.8,267.5L446.8,270.6L448.8,273.1L451.2,276.5L451.7,279.9L454.5,283.5L456.4,286.2L457.8,289.1L458.8,290.4L460.2,291.9L460.8,293.3L461.4,297.4L462.2,301.4L462.8,303.1L464.0,303.2L466.3,302.7L469.7,301.1L473.0,299.5L475.5,298.1L478.6,296.6L481.3,295.5L482.3,293.8L484.3,292.6L486.5,291.7L489.1,290.4L491.3,289.2L492.7,286.7L494.1,284.8L493.9,282.8L495.7,282.8L496.2,280.4L498.2,277.3L496.7,276.3L495.2,274.4L491.4,272.6L490.8,272.5L489.8,270.9L489.6,269.2L489.2,267.6L489.5,267.2L488.9,268.0L488.6,268.7L487.3,270.1L485.5,272.2L483.6,273.1L481.5,273.0L479.3,273.1L479.3,272.7L478.5,271.8L479.1,271.0L478.9,270.0L478.8,268.4L478.0,267.8L477.5,268.0L477.0,269.5L477.4,271.4L475.8,269.2L475.4,267.6L475.0,266.3L474.2,265.5L472.1,263.7L471.2,261.9L471.0,261.5L470.1,260.3L469.7,259.4L470.2,258.9L469.5,257.8L470.8,257.8L471.9,256.7L473.1,257.7L474.4,257.7L476.2,260.5L477.8,263.2L480.7,264.6L482.9,266.3L485.8,266.9L487.5,266.1L489.0,265.2L490.7,266.3L491.7,268.8L492.8,269.1L495.4,269.7L499.2,270.0L501.5,270.3L503.2,270.4L505.7,270.0L508.2,270.1L511.9,269.5L513.1,271.2L513.7,271.3L514.9,273.4L516.8,274.2L517.8,275.5L521.1,276.3L522.0,276.1L520.5,277.6L518.9,278.0L520.5,279.5L522.4,281.5L524.0,282.0L526.3,280.7L527.1,277.8L527.8,281.0L528.7,286.6L529.9,290.9L530.9,294.3L531.8,295.9L533.4,298.7L534.6,302.4L537.1,306.7L538.4,310.1L540.2,314.2L541.6,315.0L542.9,313.1L545.5,311.8L544.5,310.2L546.6,309.2L546.4,306.1L547.1,301.9L546.4,298.2L546.4,295.6L548.5,294.6L550.8,291.8L552.8,289.9L555.9,285.8L557.9,284.4L559.7,283.1L560.0,280.2L562.4,279.7L564.6,279.1L567.2,278.9L567.7,277.3L569.5,277.0L570.5,277.8L571.3,280.2L572.2,281.9L573.8,283.6L575.9,285.7L577.6,287.8L578.4,290.9L578.2,294.4L580.8,295.1L582.6,293.0L583.9,290.9L584.8,292.5L585.8,293.1L586.5,296.1L587.7,299.5L589.0,303.7L589.6,307.4L589.6,310.0L589.2,312.6L589.3,314.7L589.4,315.7L591.1,316.5L592.8,318.2L593.8,319.3L594.5,322.0L595.2,325.1L597.0,328.3L599.1,330.4L602.1,332.7L603.9,332.5L601.9,329.3L601.7,326.2L601.6,323.6L600.8,322.0L598.6,319.9L598.4,319.8L596.4,318.1L594.8,317.3L593.2,313.9L592.9,311.8L591.5,312.1L591.0,308.7L592.1,305.3L592.3,303.2L592.2,301.1L593.4,300.8L594.3,301.6L594.4,303.1L596.3,302.9L597.6,304.2L599.3,305.7L599.9,307.6L600.9,308.4L603.1,308.9L604.7,310.0L604.1,313.6L605.4,313.1L608.0,311.0L608.5,309.2L609.2,309.1L611.4,307.5L613.3,305.9L613.6,304.0L613.9,302.4L613.1,300.0L612.0,296.1L610.3,294.0L608.5,292.7L605.9,290.4L603.5,287.2L603.4,284.4L604.8,282.0L606.3,281.2L607.4,279.8L608.7,279.4L609.9,279.9L611.3,280.1L612.5,283.2L613.5,282.5L613.0,280.7L616.0,279.7L618.5,278.6L619.6,278.1L621.1,277.8L623.8,276.8L626.2,275.2L628.7,272.1L630.9,269.7L631.2,268.2L631.9,265.0L632.7,263.1L633.9,260.8L633.6,258.2L631.5,256.9L630.8,256.7L632.5,255.1L631.7,253.5L628.8,250.9L625.7,246.5L622.8,245.2L622.7,244.4L623.8,241.9L625.6,239.9L627.5,238.4L624.4,237.9L622.8,237.3L621.6,238.6L619.7,238.9L619.5,237.3L616.3,236.0L614.9,234.2L617.1,233.7L617.8,231.9L619.6,229.5L622.3,229.9L621.9,232.9L622.6,235.0L624.6,233.2L627.9,231.9L630.2,232.9L631.5,235.0L630.8,236.6L633.2,237.3L634.4,237.5L635.8,238.3L635.6,239.9L637.5,242.3L638.4,245.3L639.3,246.5L641.5,245.3L643.2,244.9L644.0,244.3L643.9,241.9L642.3,239.4L640.3,237.3L638.1,235.3L635.5,233.8L634.8,232.1L636.4,230.8L637.1,229.9L637.2,228.0L636.7,227.0L637.9,225.7L639.2,223.6L641.7,224.4L644.5,221.8L645.6,218.7L646.1,214.9L646.3,212.3L646.2,208.5L643.7,204.7L641.9,200.4L638.6,198.2L634.0,195.2L630.9,196.4L627.8,194.4L624.6,194.2L625.1,191.0L626.3,189.9L627.1,186.1L628.8,182.9L634.1,183.0L638.5,182.7L642.4,182.4L647.0,183.7L649.4,182.5L648.0,180.1L648.1,178.9L650.4,177.0L653.4,176.5L657.0,179.9L658.2,178.2L657.7,175.6L659.2,175.4L661.8,179.4L660.5,180.3L662.0,184.9L659.9,188.3L663.1,193.5L667.9,198.4L671.6,200.9L675.1,203.7L675.7,200.9L674.0,198.4L676.5,198.2L673.5,195.4L676.3,194.7L673.3,192.0L674.8,190.5L670.4,186.6L665.9,183.5L665.8,181.5L669.0,180.8L677.3,181.4L676.3,180.3L677.3,178.9L679.4,177.0L682.4,175.3L686.1,175.8L683.9,174.0L675.3,170.1L677.6,170.5L678.9,169.6L665.3,160.6L661.4,159.7L655.8,158.8L650.5,158.6L645.9,158.1L646.7,159.0L642.9,159.0L640.2,159.4L632.2,159.2L627.8,158.3L620.5,156.2L613.4,156.4L607.2,154.9L598.2,153.2L588.5,152.2L588.3,153.6L585.5,155.1L579.5,154.9L577.3,156.4L572.9,154.5L572.7,154.8L569.8,152.3L564.7,150.9L559.3,150.4L559.6,151.9L554.9,151.9L543.3,150.9L540.5,149.2L535.7,149.8L532.0,151.5L531.1,149.2L536.0,146.2L535.2,145.0L525.3,143.8L518.7,142.4L515.7,144.0L511.5,145.6L505.8,146.0L500.5,146.8L498.6,148.8L494.5,150.5L490.9,150.9L496.7,154.0L492.1,153.4L488.8,153.2L482.2,151.9L483.9,154.0L484.1,156.2L486.4,158.3L487.4,160.5L489.0,161.4L493.0,162.8L495.3,163.7L492.3,163.0L488.8,162.8L489.4,164.3L488.1,166.6L486.3,165.7L487.0,163.7L485.7,161.6L485.5,159.4L483.2,157.3L481.4,155.1L480.2,152.8L474.4,151.1L474.0,154.0L472.8,156.6L474.9,159.2L476.6,160.8L471.2,160.1L463.8,158.8L464.2,161.2L459.3,161.4L454.5,162.1L453.1,160.8L448.0,162.5L442.0,162.5L443.1,165.2L439.7,165.2L436.1,161.3L438.3,163.0L439.6,166.4L439.5,167.3L435.7,166.1L432.9,168.2L434.6,170.6L430.3,171.2L429.7,172.1L424.5,170.7L423.2,168.0L420.1,165.9L418.7,164.7L423.5,165.9L429.9,167.0L433.8,165.7L433.9,164.6L430.6,162.4L424.4,160.5L419.2,159.7L416.3,158.4L414.4,158.8ZM424.7,228.5L422.5,227.5L422.1,226.4L420.9,225.1L421.7,224.6L421.5,223.3L422.8,221.9L422.8,220.8L423.3,219.2L424.4,217.8L425.3,216.5L426.2,214.9L428.8,214.9L429.0,215.9L432.4,215.8L430.3,217.8L432.1,218.2L432.5,219.7L434.1,220.0L436.4,218.7L438.5,218.6L438.5,217.5L436.5,217.7L435.1,215.9L435.8,214.9L438.5,214.2L439.8,213.5L441.2,213.3L443.6,213.1L441.6,214.3L441.1,216.9L440.4,217.8L438.9,217.9L440.4,219.0L442.3,220.2L444.5,221.0L446.0,222.4L446.7,222.8L449.0,223.9L450.8,226.1L450.9,227.7L447.2,229.0L444.5,229.2L439.9,228.2L437.3,226.3L433.3,226.4L430.3,227.9L427.3,228.6L424.7,228.5ZM465.6,226.8L462.6,223.9L461.7,221.5L460.0,219.7L460.1,217.2L462.0,216.4L464.2,215.4L467.5,213.8L471.6,214.1L473.1,217.9L469.2,218.2L469.0,220.0L467.7,220.5L470.3,223.3L473.3,224.6L473.9,227.1L475.2,229.0L479.0,229.0L477.9,231.6L475.7,231.6L477.4,233.4L479.3,238.5L475.5,240.2L471.5,238.4L468.6,237.9L468.0,235.7L468.2,233.4L468.2,231.1L470.0,230.7L468.1,229.8L465.6,226.8Z"/>
<path d="M547.0,310.5L550.0,313.6L551.8,317.0L551.4,319.1L548.9,320.6L547.1,318.1L546.6,314.7L547.2,312.6Z"/>
<path d="M636.1,270.0L637.1,270.8L636.9,273.4L636.3,278.9L634.0,276.0L634.5,271.8L635.4,270.5Z"/>
<path d="M610.0,285.7L612.2,288.5L614.3,287.0L615.0,284.6L613.9,283.6L611.7,284.0Z"/>
<path d="M616.3,330.7L617.9,331.7L620.1,332.5L620.0,328.8L624.0,327.7L626.1,324.6L628.2,323.0L629.4,322.5L630.6,320.5L632.3,318.1L634.3,319.4L635.3,320.8L638.1,322.8L635.1,325.0L634.4,325.2L630.7,324.9L629.8,325.1L629.9,327.1L628.9,328.8L628.3,330.9L627.5,332.3L625.6,332.8L622.2,332.3L621.3,333.5L618.3,333.9L616.2,333.5Z"/>
<path d="M650.5,359.5L652.8,358.3L655.4,357.9L656.1,358.2L654.1,359.6L650.8,360.7L650.8,360.2Z"/>
<path d="M688.6,342.9L692.0,344.5L696.5,346.0L699.3,348.7L699.2,350.5L701.9,351.5L703.6,353.6L702.1,355.4L704.2,357.3L704.9,359.9L708.0,361.5L709.6,363.0L707.7,363.8L703.0,362.5L701.0,359.9L699.2,357.3L695.8,356.0L693.2,357.5L692.0,360.2L687.4,359.9ZM704.9,351.0L708.7,350.5L712.2,349.2L714.4,347.1L713.3,347.1L712.0,348.9L709.0,349.2L706.6,350.5L705.2,350.4ZM711.2,342.9L714.7,345.5L716.2,347.9L715.1,346.6L713.0,344.0ZM719.7,350.2L722.2,353.9L720.7,352.8Z"/>
<path d="M734.9,388.9L737.8,391.0L740.3,394.4L738.7,394.4L735.8,391.8ZM744.1,374.5L745.3,375.3L745.1,377.4L744.1,376.6ZM744.8,377.9L745.9,379.2L745.0,379.2ZM745.9,382.1L746.7,382.6L745.9,382.9ZM-32.5,371.4L-31.1,371.4L-31.2,372.2ZM-30.2,372.4L-29.0,372.7L-29.9,372.8ZM-33.5,391.3L-32.8,391.5L-33.1,391.8ZM694.6,301.4L695.0,300.6L694.8,301.5ZM22.5,381.8L23.5,382.1L23.4,382.9Z"/>
</g>
<g fill="none" stroke="#c2c2c2" stroke-width="0.5" stroke-linejoin="round">
<path d="M208.9,333.0L210.1,334.1L212.0,334.3L212.5,333.2L215.2,331.9L215.5,331.0L216.9,330.4L215.5,329.6L215.1,325.4L218.3,326.4L218.1,325.7L221.4,324.9L222.5,324.3L223.3,322.5"/>
<path d="M223.3,322.5L221.7,320.7L222.5,318.6L224.3,317.6L225.6,314.4"/>
<path d="M223.3,322.5L224.9,323.0L224.6,324.3L225.5,324.6L226.0,325.9L224.9,329.1L225.4,331.3L227.0,332.7L229.3,332.2L230.9,331.0L232.8,331.1"/>
<path d="M231.5,320.6L231.1,323.0L229.7,324.1L229.3,325.7L231.0,327.5L231.2,328.8L232.8,331.1"/>
<path d="M232.8,331.1L234.0,330.4L236.3,329.4L237.2,330.1"/>
<path d="M238.8,321.0L237.7,323.0L238.6,326.7L237.2,330.1L239.0,330.1L241.1,330.4L241.9,329.6L244.1,325.3"/>
<path d="M203.5,364.7L205.2,364.9L207.0,363.9L210.1,362.0L213.1,361.5L213.2,366.7L215.6,368.6L218.8,369.2L221.2,370.3L223.5,371.4L224.9,372.2L225.4,375.6L225.9,378.6L230.0,378.7L230.4,381.3L231.8,382.0L232.4,383.7L231.9,385.9L231.3,388.0L231.4,388.8"/>
<path d="M231.4,388.8L229.0,386.7L223.2,387.5L222.3,391.1L221.7,394.3"/>
<path d="M221.7,394.3L221.3,393.6L218.7,393.6L218.1,395.7L216.4,393.9L214.7,393.9L213.3,393.1L212.0,395.2L211.6,395.7"/>
<path d="M221.7,394.3L225.8,398.3L230.6,400.4L233.8,402.2L233.0,405.8L232.3,407.3L235.9,407.8L238.1,407.5L238.5,407.6L240.6,405.8L240.7,403.0"/>
<path d="M240.7,403.0L241.0,399.1L238.5,398.7L237.6,395.3L237.1,394.4L235.1,394.3L232.4,393.9L232.1,390.2L231.4,388.8"/>
<path d="M240.7,403.0L242.4,403.1L243.0,404.7L243.1,406.4L241.9,407.7L240.5,408.9L239.0,410.2L238.0,411.6L235.6,415.0"/>
<path d="M235.6,415.0L237.4,414.8L239.4,416.6L240.3,416.7L242.8,418.3L244.8,419.9L246.6,421.7L245.9,422.6L246.4,424.3"/>
<path d="M235.6,415.0L235.3,421.0L235.5,424.7"/>
<path d="M359.4,222.8L360.3,223.9L361.7,224.1L364.7,224.4L366.8,225.1L369.9,225.3"/>
<path d="M347.2,238.9L347.1,237.9L348.2,236.3L348.2,234.2L347.2,232.5L348.5,231.6L348.8,229.0L350.1,227.5L349.3,226.6L346.1,227.0L345.9,226.2L344.5,226.8"/>
<path d="M369.8,202.5L371.6,202.4L373.1,202.2L374.8,203.1L374.5,203.9L375.1,204.1"/>
<path d="M377.3,197.8L377.0,199.4L376.4,199.7L377.0,200.4L376.4,201.2L375.1,201.4L375.5,202.4L375.1,204.1"/>
<path d="M379.9,193.7L381.4,193.9"/>
<path d="M375.5,205.6L376.2,206.5L376.0,207.3"/>
<path d="M374.8,207.1L376.0,207.3"/>
<path d="M375.5,205.6L374.7,206.3L374.8,207.1"/>
<path d="M391.2,209.1L390.4,209.6L389.1,210.8L389.6,211.4L389.7,212.3L388.0,212.0L385.6,212.6L384.5,212.2L384.0,212.8L382.7,212.2"/>
<path d="M384.6,213.8L382.7,213.3L382.7,212.2"/>
<path d="M384.6,213.8L386.1,213.7L388.0,213.5L388.6,214.3L391.3,214.9"/>
<path d="M391.3,214.9L393.0,215.1L393.9,214.6L395.2,214.3L396.1,213.9"/>
<path d="M391.2,209.1L392.9,209.5L393.4,208.5L395.7,209.1L397.5,209.5"/>
<path d="M397.5,209.5L398.0,211.0"/>
<path d="M398.0,211.0L398.0,211.8L396.7,212.6L396.9,213.6L396.1,213.9"/>
<path d="M397.5,209.5L399.3,208.6L401.1,207.2"/>
<path d="M408.6,208.2L406.6,207.3L403.7,208.0L402.3,207.0L401.1,207.2"/>
<path d="M408.0,210.0L408.6,208.2"/>
<path d="M398.0,211.0L399.5,211.7L401.3,211.5L401.8,210.9L403.6,210.6L405.3,209.6L408.0,210.0"/>
<path d="M397.1,214.9L395.3,215.6L395.5,216.5L394.7,217.4L393.3,217.0L391.9,217.5L391.3,217.5"/>
<path d="M402.1,216.4L399.5,216.6L397.1,214.9"/>
<path d="M402.5,219.1L403.3,218.2L402.4,217.4L402.1,216.4"/>
<path d="M403.3,222.4L404.0,221.3L403.0,220.2L403.2,219.0L402.5,219.1"/>
<path d="M401.9,225.1L401.9,223.9L402.3,223.2L403.3,222.4"/>
<path d="M405.8,224.2L405.4,224.9L404.5,225.0L404.1,226.8"/>
<path d="M408.6,225.8L408.9,224.6L408.0,223.6L406.3,223.3L405.8,224.2"/>
<path d="M410.3,225.7L408.6,225.8"/>
<path d="M411.7,228.1L410.3,225.7"/>
<path d="M418.8,227.2L418.3,228.1L416.5,228.4L414.9,227.6L411.7,228.1"/>
<path d="M422.1,226.4L420.0,226.2L418.8,227.2"/>
<path d="M410.3,220.8L411.1,221.8L414.3,221.9L416.4,222.2L419.3,220.9L422.8,221.9"/>
<path d="M404.8,215.9L407.6,218.2L407.5,219.1L409.8,219.5L410.3,220.8"/>
<path d="M409.7,211.2L408.0,212.6L406.7,215.1L404.8,215.9"/>
<path d="M417.2,210.4L413.8,211.7L409.7,211.2"/>
<path d="M424.4,217.8L421.4,217.5"/>
<path d="M417.2,210.4L418.5,211.5L420.6,213.8L421.0,216.1L421.4,217.5"/>
<path d="M421.4,217.5L422.7,216.1L424.9,215.1L422.7,212.4L422.1,211.2L419.4,209.9L417.2,210.4"/>
<path d="M414.4,158.8L413.3,159.7L411.7,160.4"/>
<path d="M411.7,160.4L411.5,162.3L414.2,163.4L413.2,165.2L415.6,168.0L415.4,170.0L417.3,171.6L419.7,174.4L417.5,177.0L414.2,180.0"/>
<path d="M415.2,182.6L414.4,184.2L415.3,186.5L414.8,187.2"/>
<path d="M414.8,187.2L415.8,187.8L415.7,188.9L416.9,190.6"/>
<path d="M403.4,190.8L405.3,190.0L409.1,190.3L410.6,189.9L412.9,191.1L414.2,191.8"/>
<path d="M414.2,191.8L416.9,190.6"/>
<path d="M384.0,183.5L385.0,181.8L386.2,180.8L385.7,178.9L386.7,178.0L385.3,177.3L384.9,174.2L384.4,173.5L385.7,171.9L388.1,171.4L387.3,170.5L388.5,168.9L388.3,167.0L390.0,166.6L391.3,164.6L390.7,163.9L393.6,162.8L393.7,161.5L397.2,161.9L397.2,160.4"/>
<path d="M405.2,167.7L403.9,166.1L404.5,165.5L403.1,163.9L403.4,162.9L400.3,161.6L397.2,160.4"/>
<path d="M397.2,160.4L398.8,159.9L400.9,161.1L403.1,161.1L406.5,160.5L406.5,159.0L409.4,158.1L412.2,159.9L411.7,160.4"/>
<path d="M409.0,186.4L410.7,186.1L413.2,187.3L414.8,187.2"/>
<path d="M402.5,219.1L400.4,218.4L398.1,218.1L396.9,218.7L395.7,218.2L395.8,219.2L396.7,220.8L398.7,222.6L400.0,223.9L400.1,224.1"/>
<path d="M401.9,225.1L401.2,224.8"/>
<path d="M405.4,224.9L406.6,226.7L406.5,228.2L407.6,229.3L405.8,232.4"/>
<path d="M406.6,226.7L408.6,225.8"/>
<path d="M407.6,229.3L409.5,228.8L411.7,228.1"/>
<path d="M418.8,227.2L419.4,228.1L418.4,229.7"/>
<path d="M390.2,274.7L389.2,272.6L386.2,271.8L385.6,270.0L384.2,267.6L385.3,266.3L385.0,264.8L385.4,262.9L385.0,260.3L384.3,257.1"/>
<path d="M384.3,257.1L383.1,252.2L381.4,251.2L379.6,247.8L381.1,245.6L381.2,242.8L380.9,240.7L381.8,239.6"/>
<path d="M418.6,253.4L417.9,257.3L418.7,259.7L419.7,278.6"/>
<path d="M343.8,263.8L333.7,263.8"/>
<path d="M388.5,249.5L388.5,251.4L385.9,253.3L385.9,255.4L384.3,257.1"/>
<path d="M419.7,278.6L419.9,283.8L417.6,283.8L417.7,285.1L399.2,274.8L397.0,276.0L395.2,277.0L390.2,274.7"/>
<path d="M324.8,280.4L333.8,280.4L333.9,276.0L336.2,274.8L336.3,268.2L343.8,268.2L343.8,264.8"/>
<path d="M352.1,270.9L348.7,270.9L349.7,282.2L350.7,293.4L351.1,293.8L350.5,295.6L341.4,295.6L338.9,296.6L337.3,295.8L336.5,295.9L336.1,297.4L335.4,297.9"/>
<path d="M325.5,294.2L329.9,292.7L332.6,294.2L333.9,296.1L335.4,297.9L336.8,303.7L331.8,303.2L327.7,303.1L324.9,303.8"/>
<path d="M324.7,301.2L328.8,300.6L331.6,300.8L331.6,301.4L328.8,301.6L324.8,302.0"/>
<path d="M328.8,307.5L331.1,305.7L331.8,303.2"/>
<path d="M336.8,303.7L339.8,304.2L341.9,304.0L344.1,306.3L344.8,309.5"/>
<path d="M332.6,312.5L334.7,310.4L337.5,310.0L338.8,311.8L339.5,313.9L341.3,314.4L341.5,316.8L343.7,316.2L344.3,313.9L344.8,309.5"/>
<path d="M336.7,318.1L339.5,313.9"/>
<path d="M343.7,316.2L344.1,319.6L345.9,321.0L345.8,324.7"/>
<path d="M344.8,309.5L349.0,308.1L350.6,308.9L352.6,310.8L356.9,311.3"/>
<path d="M356.0,322.8L356.7,322.0L355.8,318.9L357.4,314.7L356.9,311.3"/>
<path d="M356.9,311.3L356.6,307.4L361.8,307.4L362.8,307.1"/>
<path d="M362.8,307.1L363.9,309.2L364.1,311.3L364.5,314.4L364.3,316.8L364.7,317.8L366.0,320.2"/>
<path d="M367.0,319.9L366.9,312.6L365.3,307.4L362.8,307.1"/>
<path d="M365.3,307.4L368.7,305.0L368.7,304.0L371.4,305.5L371.9,308.7L369.5,312.6L369.6,316.5L369.4,319.5"/>
<path d="M350.6,308.9L351.3,305.5L353.1,304.0L354.0,301.1L356.6,299.5L358.6,299.0L361.6,296.8L363.6,297.0L364.1,299.5L365.5,302.1L368.0,302.9L368.7,304.0"/>
<path d="M363.6,297.0L366.4,296.1L371.2,295.9L372.9,291.9L372.9,286.0"/>
<path d="M371.4,305.5L371.7,303.4L372.6,300.8L375.5,299.9L378.8,301.9L381.5,301.4L385.0,302.5L387.7,301.4L391.4,301.9L394.3,300.3L394.1,298.5L398.5,291.9L398.3,282.0L397.0,276.0"/>
<path d="M382.8,324.3L383.5,321.0L386.4,317.8L388.8,318.9L390.8,316.5L391.3,314.2L392.6,313.6L393.7,309.7L396.7,306.1L395.7,303.7L395.5,301.9L394.3,300.3"/>
<path d="M395.5,301.9L397.4,304.2L397.9,307.6L397.7,310.0L395.3,311.0L398.9,316.5L396.6,320.4L396.8,323.0L399.9,328.3L400.3,330.4L393.9,330.4L389.3,330.4L385.8,330.0"/>
<path d="M389.3,330.4L389.3,333.5L385.8,333.5"/>
<path d="M393.9,330.4L396.2,333.0L395.3,336.1L396.4,337.4L396.4,341.1L393.2,342.4L390.0,342.4L390.6,345.3L388.8,346.4"/>
<path d="M400.3,330.4L401.3,327.7L406.1,327.0L405.0,329.8L404.3,335.3L404.3,337.4L400.6,341.3L399.9,346.3L398.2,347.3L396.4,348.9L394.1,348.9L392.2,349.2L390.9,349.2"/>
<path d="M398.9,316.5L401.6,316.2L404.6,315.2L406.9,312.6L410.1,312.3L413.0,308.4L415.8,307.5L413.6,303.2L414.3,301.1L414.7,299.3L415.5,295.1L418.0,295.1L417.7,285.1"/>
<path d="M415.8,307.5L417.7,313.4L418.9,313.4L421.0,315.7L424.0,318.9L426.5,322.9L421.5,323.0L416.0,323.6L414.9,325.4L410.7,324.6L408.1,323.0L406.1,327.0"/>
<path d="M418.9,313.4L420.6,309.2L424.1,311.3L429.4,311.5L431.0,310.0L434.4,310.5L437.3,304.7L439.3,304.2L439.2,308.1L441.6,311.3L442.0,308.4L443.7,305.3L445.9,302.9L446.7,298.7L446.4,296.6L447.5,291.4L451.0,289.1"/>
<path d="M446.7,298.7L449.8,297.2L452.4,298.0L456.8,299.3L460.4,303.5L462.1,302.9"/>
<path d="M460.4,303.5L459.0,307.4L461.7,307.5L462.4,306.2"/>
<path d="M461.7,307.5L464.4,312.6L471.4,315.2L473.7,315.2L466.7,323.3L462.3,324.1L459.8,325.7L457.3,325.0L454.3,327.2L451.1,326.7L448.3,324.6L446.0,324.1L445.9,322.3L443.1,318.6L439.1,315.7L441.2,314.2L441.6,311.3"/>
<path d="M459.8,325.7L457.7,328.8L457.8,338.3L459.1,340.4"/>
<path d="M446.0,324.1L441.6,325.1"/>
<path d="M441.5,338.7L449.9,344.0L450.4,345.6L453.6,348.3"/>
<path d="M434.4,327.0L431.7,324.1L428.7,324.9L426.5,322.9"/>
<path d="M431.5,339.7L430.6,341.1L430.2,342.9L430.1,343.3L432.2,342.4L433.6,342.4L434.4,342.1L434.3,340.6L433.6,338.9"/>
<path d="M431.0,347.7L431.4,352.6L433.9,357.5L438.9,360.7"/>
<path d="M443.4,366.3L449.2,366.7L451.5,365.9L456.1,363.6"/>
<path d="M416.5,382.1L413.4,378.4L413.6,370.1L418.2,370.1L418.1,364.6L414.4,365.4L414.2,362.0L413.4,357.0L413.4,355.2L410.4,354.4L406.9,357.0L403.7,357.3L402.1,354.9L401.4,351.5L393.1,351.4L391.4,351.8"/>
<path d="M418.1,364.6L419.0,365.9L421.3,365.4L421.5,366.4L424.9,367.2L425.6,366.4L428.3,368.8L429.6,371.1L431.4,371.1L431.5,367.9L428.3,367.2L428.9,364.1L429.0,360.2L429.2,358.3L433.9,357.5"/>
<path d="M439.2,372.7L432.2,374.8L432.7,376.9"/>
<path d="M433.9,394.6L434.8,401.4L434.8,403.9"/>
<path d="M435.0,406.3L436.8,406.3"/>
<path d="M423.1,413.5L425.5,411.4L427.5,411.4L428.5,412.9L427.5,414.5L425.6,416.1L423.9,415.3L423.1,413.5"/>
<path d="M446.7,222.8L452.1,223.3L455.1,224.9L457.3,224.5L459.1,225.1L461.0,226.7"/>
<path d="M461.0,226.7L463.1,228.2L464.5,228.5L465.6,226.8"/>
<path d="M464.2,215.4L462.5,214.3L457.4,210.0L458.0,205.2L460.3,204.4L463.7,201.7L467.2,202.2L471.7,203.7L478.5,203.2L481.9,204.6L485.5,203.9L481.7,201.2L482.7,198.4L482.8,196.2L489.1,194.9L495.9,192.7L501.0,195.4L506.4,197.2L512.0,194.9L515.5,197.7L522.6,203.9L528.9,203.4L534.6,207.0L539.2,208.2"/>
<path d="M540.1,208.1L543.0,206.2L547.1,203.9L553.6,206.1L559.4,206.5L559.4,204.7L555.6,201.4L558.3,200.7L566.0,202.7L567.3,204.4L575.1,205.2L581.6,207.7L586.6,207.7L592.2,205.3L597.2,206.3"/>
<path d="M597.2,206.3L600.0,207.2L601.7,205.2L600.6,199.7L598.9,198.9L600.1,197.7L604.3,197.0L610.4,198.9L618.3,205.4L619.2,206.5L623.7,207.5L629.7,211.8L632.7,211.8L636.5,209.9L637.1,212.6L638.4,218.4L635.5,218.2L637.3,222.6L637.5,225.4L637.9,225.7"/>
<path d="M441.0,242.2L442.5,241.5L442.4,239.9L445.2,239.8L449.6,239.9L454.5,239.2L459.8,239.0"/>
<path d="M459.8,239.0L457.2,233.2L458.6,232.4L456.0,231.4L455.1,228.8L452.9,227.9L450.9,227.7"/>
<path d="M455.1,228.8L458.3,228.2L461.0,226.7"/>
<path d="M458.3,228.2L459.7,230.1L462.4,232.9L462.7,234.5"/>
<path d="M458.6,232.4L462.7,234.5L465.5,232.4L468.0,235.7"/>
<path d="M454.5,239.2L452.3,240.7L452.6,246.2L448.2,248.9"/>
<path d="M441.4,245.6L443.1,246.7L441.7,248.8L440.1,249.6"/>
<path d="M441.7,248.8L441.7,250.5"/>
<path d="M438.7,254.3L440.7,259.0"/>
<path d="M459.8,239.0L461.6,242.0L463.7,244.4L462.9,247.3L464.3,249.9L468.4,252.5L468.4,254.1L469.4,256.4L470.8,257.8"/>
<path d="M449.4,252.1L452.1,252.6L456.2,254.8L462.5,259.8L466.6,260.1L468.3,257.7L469.5,257.8"/>
<path d="M466.6,260.1L468.7,260.5L471.0,261.5"/>
<path d="M460.8,293.3L461.6,290.6L463.4,290.6L468.7,291.2L470.3,291.8L472.8,288.5L481.3,286.5L487.9,283.8L488.9,278.6L487.7,276.8L481.8,276.1L479.3,273.1"/>
<path d="M487.7,276.8L488.7,272.9L489.8,270.9"/>
<path d="M481.3,286.5L484.3,292.6"/>
<path d="M479.3,238.5L481.2,238.4L483.4,236.6L486.2,236.3L488.8,237.7L490.9,238.1L493.5,240.5L495.4,240.5L496.0,243.1"/>
<path d="M496.0,243.1L495.3,246.5L497.0,252.0L497.5,253.8L499.3,254.1L498.1,258.1L500.6,261.1L503.1,262.3L503.5,265.0L504.6,266.6L501.6,267.6L501.5,270.3"/>
<path d="M498.1,258.1L502.0,259.3L505.5,259.3L510.2,257.7L509.9,255.2L512.6,254.3L515.8,252.7L515.6,249.9L517.2,249.0L515.9,247.3L518.4,246.5L518.9,244.1L517.5,241.9L519.8,239.9L524.6,238.8"/>
<path d="M496.0,243.1L498.6,243.9L500.0,242.4L502.8,241.3L504.5,238.6L506.5,238.5L509.4,238.9L512.7,239.2L514.1,238.0L514.3,236.6L516.3,236.8L517.9,240.2L521.0,238.3L524.6,238.8"/>
<path d="M506.5,238.5L500.9,234.5L495.9,231.6L492.2,228.5L490.1,228.0L489.4,225.9L486.0,224.5L483.6,228.2L481.5,228.2L478.6,226.4L474.7,226.2L473.9,227.1"/>
<path d="M481.5,228.2L479.0,218.7L484.0,217.2L489.9,220.2L498.5,222.0L501.6,223.9L502.1,226.4L507.3,229.0L512.4,225.8L517.5,225.3L518.3,223.3L522.0,224.1L529.2,224.4L531.9,225.9"/>
<path d="M531.9,225.9L531.1,223.9L532.2,223.5L529.9,219.7L533.7,218.2L532.9,217.3L532.6,213.1L537.9,213.5L536.8,210.0L539.2,208.2"/>
<path d="M531.9,225.9L529.0,228.0L526.0,229.0L522.2,230.5L520.4,232.1L520.3,233.0L521.3,235.3L523.6,235.7L524.6,238.8"/>
<path d="M512.4,225.8L512.1,228.0L518.0,229.4L515.6,231.1L512.9,231.4L510.9,232.7L508.0,233.7L510.0,236.3L509.4,238.9"/>
<path d="M520.3,233.0L516.1,232.9L512.9,231.4"/>
<path d="M540.1,208.1L542.9,210.5L549.2,213.8L551.2,218.2L556.7,218.8L561.5,220.6L565.3,224.5L574.6,224.8L584.6,227.5L588.5,226.6L592.7,225.3L596.3,222.0L594.7,218.6L598.6,219.3L602.6,215.2L608.5,214.5L608.2,213.6L603.9,211.2L602.1,211.9L598.1,211.3L597.2,206.3"/>
<path d="M627.9,231.9L629.9,229.0L630.6,227.0L633.7,228.0L632.9,226.4L635.6,225.3L637.5,225.4"/>
<path d="M634.4,237.5L635.6,236.0L638.1,235.3"/>
<path d="M607.4,279.8L604.3,278.6L603.6,276.3L600.5,275.1L597.8,277.3L593.8,277.6L593.5,280.7L591.9,279.8"/>
<path d="M593.8,277.6L596.3,281.2L598.8,282.8L599.3,285.4L602.3,287.5L605.9,291.8L608.5,294.4L609.1,297.7L605.6,298.6L603.8,298.6"/>
<path d="M609.1,297.7L609.8,303.4L606.1,305.8L607.0,307.4L604.5,307.5L603.1,308.9"/>
<path d="M524.6,238.8L527.7,242.0L532.1,243.3L535.4,246.5L536.8,251.2L536.9,254.3L542.6,257.2"/>
<path d="M559.6,263.2L561.1,262.8L561.7,264.8L563.3,262.4L567.5,263.3L571.2,261.1L575.4,260.1L577.0,259.3L580.1,262.4"/>
<path d="M561.7,264.8L562.2,266.1L565.1,265.9L569.1,265.9L567.5,263.3"/>
<path d="M559.6,263.2L561.5,264.8L561.7,264.8"/>
<path d="M516.8,274.2L517.9,272.6L522.9,272.3L519.8,266.6L520.1,262.9L524.1,262.7L525.9,257.8L527.9,254.8L528.8,251.7L525.4,249.3L524.2,246.2L530.7,244.4L532.1,243.3"/>
<path d="M564.6,279.1L563.6,275.5L561.3,272.1L560.8,268.7L561.0,266.9L564.4,268.2L564.9,270.0L570.7,270.5L570.8,272.3L568.4,273.1L568.6,274.4L570.0,276.0L571.0,274.2L572.4,278.7"/>
</g>
<g stroke-width="0.4" stroke-linejoin="round" fill-rule="evenodd">
<path fill="#006837" stroke="#00532c" d="M128.2,159.2L131.3,159.4L133.8,160.8L137.7,159.7L141.3,159.4L145.6,158.6L149.2,158.3L152.1,157.3L153.3,157.7L154.6,159.4L157.1,158.1L161.2,158.8L165.2,160.5L170.0,160.8L170.1,162.3L166.7,163.2L170.7,163.4L176.3,163.0L178.8,163.9L177.4,165.5L181.4,163.0L186.0,161.6L189.7,163.2L194.8,163.2L197.6,161.9L199.8,162.3L203.0,159.4L207.7,155.1L210.3,154.0L210.8,156.2L210.6,158.3L210.5,159.4L210.4,161.6L213.0,163.9L216.0,161.0L221.0,158.8L225.9,159.0L227.1,160.1L225.6,161.6L222.9,163.9L223.6,165.0L218.8,166.6L214.3,166.1L214.2,167.5L211.1,168.9L205.5,171.9L201.6,173.0L197.2,174.7L192.4,177.7L188.6,181.3L187.6,184.2L189.6,184.4L187.9,188.5L192.6,188.5L195.7,189.8L199.8,192.7L204.7,193.2L202.8,197.2L202.4,198.7L202.5,200.4L203.4,202.7L205.6,202.2L208.2,199.7L209.6,195.9L209.6,194.2L214.4,192.2L217.2,189.8L218.9,187.3L216.8,184.2L220.3,181.3L220.8,178.9L222.6,175.8L227.1,175.8L230.3,176.5L232.4,177.7L232.6,178.9L235.4,178.9L235.1,181.3L233.9,183.7L235.1,185.6L240.0,184.4L242.6,181.8L244.7,180.3L245.0,183.7L246.2,187.3L246.1,189.8L247.4,192.2L251.2,193.9L251.8,195.9L253.5,198.4L253.4,200.4L250.5,202.4L247.0,202.9L243.2,205.2L239.1,205.4L234.2,205.2L230.1,205.4L227.7,207.7L223.5,209.8L220.6,212.3L217.5,214.1L220.1,213.6L224.4,210.3L229.1,208.2L233.2,208.2L233.0,210.0L229.2,211.0L230.8,212.3L230.6,214.1L231.7,215.6L233.5,216.6L236.5,216.9L237.7,216.4L239.6,213.6L240.0,216.1L237.1,218.2L231.5,219.7L226.5,222.6L225.2,221.8L226.2,220.0L230.0,217.9L229.7,216.9L227.9,217.9L226.8,218.2L224.7,218.4L223.5,216.9L224.7,213.3L224.0,212.6L222.1,212.6L219.8,214.6L218.5,216.4L216.6,217.9L215.3,218.7L208.6,218.7L204.6,220.8L203.0,222.3L198.3,222.6L197.7,223.6L197.6,224.4L192.9,225.9L188.4,226.7L188.5,225.7L190.5,223.9L192.4,220.0L192.6,217.9L191.3,216.6L191.0,215.9L190.0,214.9L189.6,213.8L184.7,210.5L181.5,211.0L179.1,210.5L176.9,210.0L174.1,209.5L172.1,209.0L171.3,208.5L114.5,208.5L114.5,208.5L115.4,207.7L114.3,205.2L110.9,202.9L112.0,200.2L112.4,197.2L111.1,195.2L111.8,193.9L114.5,191.2L112.6,189.5L113.6,185.1L112.9,181.8L107.1,183.9L107.0,181.1L104.0,180.6L128.2,159.2ZM113.3,210.0L110.3,209.0L109.1,207.0L107.2,204.4L109.4,203.7L112.3,205.7L113.6,208.2ZM104.5,200.9L104.0,197.9L104.7,195.9L107.2,195.9L105.0,198.4ZM242.5,212.0L243.8,209.8L246.0,207.2L249.0,204.2L252.5,201.9L252.8,203.4L250.0,205.9L251.9,206.2L254.6,207.2L255.1,209.2L255.4,211.8L255.8,212.3L254.3,214.3L252.8,213.8L249.7,213.8L249.2,212.0L245.1,212.0ZM231.3,214.3L236.0,215.1L234.7,216.1L231.8,215.4ZM233.9,206.2L239.0,207.7L237.2,208.2ZM243.7,176.8L240.6,175.8L237.6,174.7L234.9,173.0L232.6,170.9L226.3,171.2L226.4,169.6L234.1,168.4L236.3,166.1L239.4,163.9L238.9,162.1L236.6,161.6L234.3,160.1L232.8,158.6L227.2,158.3L222.2,158.3L217.7,157.7L216.5,156.2L217.6,154.0L220.2,151.9L223.2,150.5L228.9,150.3L227.3,153.0L233.4,150.5L235.8,150.5L238.4,152.1L241.5,152.3L243.1,154.5L246.5,155.5L249.4,157.3L251.1,159.9L247.6,161.6L251.2,162.8L254.6,164.3L257.3,165.7L255.4,167.7L251.8,169.6L249.2,168.0L246.4,166.6L248.6,170.7L249.2,173.0L245.6,174.9L242.3,172.6L243.8,174.9ZM193.7,160.5L190.8,161.0L185.3,160.5L179.4,161.4L171.8,161.4L168.5,160.5L168.3,158.3L175.5,157.0L169.8,156.2L169.6,154.9L173.5,153.0L180.2,151.3L183.8,152.3L187.5,151.9L191.2,151.5L194.2,152.3L192.2,155.1L196.0,156.2L195.6,158.3ZM162.1,155.7L159.9,154.3L162.3,151.9L168.6,149.2L173.8,148.8L178.5,149.4L179.9,150.9L170.6,154.0L165.9,155.3ZM181.9,147.4L187.7,149.0L198.5,147.8L200.9,145.8L195.8,145.0L190.2,144.6L184.6,145.4ZM201.6,155.5L198.4,153.0L203.6,150.3L208.9,150.5L208.5,152.6ZM208.9,153.8L212.3,150.3L216.8,149.6L220.3,150.5L215.9,152.3L211.3,153.8ZM238.2,148.6L230.2,148.8L220.4,148.4L221.5,145.8L218.8,144.8L226.4,144.8L232.6,146.2L240.0,146.6ZM241.1,145.4L233.8,145.0L228.1,144.6L233.0,142.8L238.1,140.9L233.2,141.3L237.3,139.1L240.8,137.3L236.2,136.4L235.8,135.6L246.0,134.2L256.7,133.3L267.8,133.1L275.1,134.0L278.2,134.3L276.4,135.6L271.5,136.4L266.8,137.6L260.5,139.1L253.7,140.0L252.4,141.3L248.6,142.3L245.6,143.8L242.8,145.2ZM233.8,141.5L227.8,140.9L225.0,139.1L229.9,136.9L234.0,135.9L238.0,137.3L237.3,139.1ZM220.2,172.3L214.9,173.7L210.6,173.5L208.2,172.6L213.2,169.6L214.9,167.7L218.1,167.5L220.1,171.2ZM207.8,147.8L210.9,147.8L214.5,144.6L209.9,144.6L205.8,146.2ZM213.6,148.2L217.3,148.4L218.4,146.6L215.1,146.8ZM196.2,160.5L202.1,160.5L203.6,158.8L199.6,158.6ZM174.8,145.8L181.4,146.6L188.8,143.4L184.6,143.2L177.0,144.8ZM209.6,141.3L215.8,142.3L221.1,140.4L219.3,138.5L211.9,139.6ZM234.4,152.1L239.7,152.6L241.8,150.9L238.4,150.3ZM215.3,174.4L219.0,175.8L220.4,174.9L217.6,173.7ZM202.5,198.4L205.2,198.9L205.3,197.7Z"/>
<path fill="#78c679" stroke="#5fa05f" d="M105.9,251.2L105.9,253.5L106.4,256.7L106.5,258.5L108.2,260.6L108.9,262.7L106.8,263.7L108.4,265.5L109.9,267.4L111.4,268.9L111.3,271.3L112.6,272.6L114.6,275.2L115.3,276.3L116.6,275.5L116.5,273.4L114.5,272.3L114.2,269.5L113.5,266.6L112.0,263.7L111.9,261.4L110.9,258.8L109.7,256.1L110.2,253.3L113.5,254.6L114.0,258.8L115.0,261.6L116.5,264.2L117.8,267.1L118.6,269.5L120.5,271.6L122.4,274.4L124.0,276.8L124.7,279.7L124.7,282.0L124.0,283.8L125.7,285.9L127.8,288.3L130.9,289.3L133.1,290.9L135.7,292.2L138.5,293.5L142.6,295.1L146.4,294.0L148.7,294.0L152.4,298.1L152.5,296.4L153.9,294.0L156.9,294.0L156.4,292.5L155.0,291.2L155.9,291.0L156.1,289.6L160.3,289.6L160.5,289.1L162.0,287.8L162.9,288.0L164.6,285.1L165.2,282.5L166.8,280.4L164.7,279.8L161.9,280.4L158.6,281.2L158.0,284.1L155.8,286.7L152.9,287.5L149.4,288.3L147.7,287.8L145.5,287.0L144.5,284.9L143.1,282.0L142.5,278.6L142.6,276.0L143.5,272.1L145.5,268.3L145.5,268.3L143.2,268.0L141.3,267.1L141.1,264.2L139.8,262.2L139.5,260.1L138.3,258.3L135.9,258.4L133.9,260.4L131.5,258.9L131.2,256.1L128.6,253.0L124.8,253.0L124.4,254.3L118.0,254.3L110.9,251.2L111.3,250.7L105.9,251.2Z"/>
<path fill="#31a354" stroke="#27824a" d="M152.4,298.1L152.5,296.4L153.9,294.0L156.9,294.0L156.4,292.5L155.0,291.2L155.9,291.0L156.1,289.6L160.3,289.6L159.6,294.6L160.3,294.6L160.9,294.7L161.6,295.1L159.3,297.2L158.8,298.5L157.0,300.2L154.2,299.8Z"/>
<path fill="#006837" stroke="#00532c" d="M158.8,298.5L157.0,300.2L159.4,301.1L161.6,301.7L162.1,301.1L160.7,299.5L158.8,298.5Z"/>
<path fill="#006837" stroke="#00532c" d="M166.5,307.1L168.3,307.5L171.1,307.6L172.5,310.0L173.4,311.2L172.3,314.7L170.9,314.2L168.5,311.0L166.2,310.2L166.5,307.1Z"/>
<path fill="#ffffcc" stroke="#c8c8a0" d="M173.4,311.2L176.4,313.1L179.5,311.7L181.8,311.4L185.3,313.5L183.8,317.3L182.8,315.2L180.4,312.6L178.2,314.7L178.5,317.0L176.7,316.0L175.2,314.9L172.3,314.7Z"/>
<path fill="#ffffcc" stroke="#c8c8a0" d="M185.0,288.3L187.0,287.8L189.6,288.8L188.2,289.5L186.1,289.5Z"/>
<path fill="#006837" stroke="#00532c" d="M185.3,313.5L186.5,315.2L187.7,312.9L189.4,311.3L189.8,308.7L191.5,307.1L192.9,306.6L195.7,306.1L197.6,305.0L198.8,303.6L200.2,304.0L199.6,305.1L197.2,307.1L195.4,310.5L194.5,312.1L195.8,312.3L196.4,314.2L196.5,316.8L197.4,317.8L200.4,317.6L202.0,317.9L203.3,320.2L207.8,319.9L206.9,322.3L206.7,324.3L207.9,327.2L206.6,328.8L208.1,330.1L208.9,333.0L208.3,331.7L206.5,331.5L202.0,331.7L202.0,333.4L203.5,333.5L203.0,334.3L201.5,334.7L201.5,336.6L202.5,337.4L203.0,339.0L201.9,347.1L200.8,346.0L201.5,343.2L198.2,342.1L195.0,342.4L193.1,339.5L191.4,337.7L189.5,336.4L187.1,335.1L184.5,335.1L183.4,334.0L181.3,332.3L181.8,330.1L183.4,329.3L185.4,326.2L184.5,325.1L185.0,321.5L184.7,318.6L183.8,317.3L185.3,313.5Z"/>
<path fill="#ffffcc" stroke="#c8c8a0" d="M189.5,336.4L189.1,338.5L188.7,340.2L186.4,342.9L183.7,344.0L182.3,345.5L181.7,348.1L181.1,349.2L179.6,347.7L177.8,347.6L177.9,345.0L178.8,342.9L178.8,341.9L176.4,341.9L176.7,338.7L178.3,336.1L178.4,334.0L179.4,333.5L181.3,332.3L183.4,334.0L184.5,335.1L187.1,335.1L189.5,336.4Z"/>
<path fill="#006837" stroke="#00532c" d="M177.9,345.0L176.4,346.6L175.7,348.4L176.3,351.3L176.3,352.1L179.2,354.1L180.2,356.5L181.4,357.3L182.5,359.9L183.5,362.5L185.1,365.6L186.3,367.6L187.1,368.8L188.5,371.7L188.3,372.4L190.6,375.0L191.4,376.1L194.3,377.9L197.4,379.6L200.8,382.2L203.1,384.1L204.9,381.8L205.8,378.4L204.6,376.1L205.0,374.3L205.6,373.2L205.4,369.4L205.8,368.8L203.5,364.7L201.1,364.9L200.9,360.9L197.3,362.2L196.8,360.9L194.9,360.7L195.4,359.5L192.8,355.7L193.5,354.1L194.8,353.1L194.5,351.8L195.2,350.0L197.4,347.9L199.9,347.1L201.9,347.1L200.8,346.0L201.5,343.2L198.2,342.1L195.0,342.4L193.1,339.5L191.4,337.7L189.5,336.4L189.1,338.5L188.7,340.2L186.4,342.9L183.7,344.0L182.3,345.5L181.7,348.1L181.1,349.2L179.6,347.7L177.8,347.6L177.9,345.0Z"/>
<path fill="#006837" stroke="#00532c" d="M203.1,384.1L203.5,385.8L204.2,388.9L204.6,392.0L204.6,393.9L204.2,396.5L204.6,397.9L205.0,402.5L204.9,404.8L204.8,408.5L204.2,411.6L205.1,414.2L204.4,415.3L205.7,419.5L206.1,422.4L206.1,426.0L205.5,428.9L205.3,433.1L204.7,434.4L206.5,438.8L206.7,441.9L207.4,445.3L207.4,447.1L207.9,449.1L208.6,452.2L208.1,456.1L208.3,457.6L211.6,460.4L210.6,462.5L211.9,466.3L214.6,470.0L215.8,472.1L218.8,474.3L223.1,476.0L224.5,476.0L224.3,473.8L224.9,473.1L226.3,472.1L228.5,472.2L225.0,471.3L221.2,471.3L219.9,470.0L219.1,468.0L217.1,467.5L215.6,464.5L216.6,462.7L215.9,459.9L216.1,457.6L215.8,455.1L214.7,452.5L213.5,449.7L212.5,447.1L211.6,444.5L210.6,441.1L210.1,438.0L210.7,435.4L209.5,431.7L210.7,430.4L209.9,428.1L210.8,425.5L209.7,422.4L208.6,420.5L207.5,417.4L208.4,415.3L207.7,412.7L208.0,410.6L209.0,408.5L210.5,406.4L209.6,404.8L209.4,402.0L209.4,400.1L211.7,398.8L211.6,395.7L209.9,394.9L209.0,392.3L207.5,389.2L207.7,386.8L206.4,385.5L204.9,381.8L203.1,384.1ZM228.4,472.9L226.5,472.6L225.3,473.8L226.2,475.0L225.0,475.8L223.4,476.5L224.8,477.5L228.1,478.5L230.8,478.5ZM223.8,477.5L228.4,479.0L231.8,480.2L234.5,481.2L234.6,479.5L232.1,478.8L228.3,478.9Z"/>
<path fill="#006837" stroke="#00532c" d="M344.5,226.8L344.8,229.3L344.3,231.4L343.1,233.2L342.9,234.9L343.5,235.8L344.3,236.8L344.2,238.1L343.8,239.4L345.9,239.4L347.2,238.9L347.1,237.9L348.2,236.3L348.2,234.2L347.2,232.5L348.5,231.6L348.8,229.0L350.1,227.5L349.3,226.6L346.1,227.0L345.9,226.2L344.5,226.8Z"/>
<path fill="#31a354" stroke="#27824a" d="M368.3,203.2L366.4,203.7L366.2,205.7L363.4,207.2L361.0,207.6L360.0,206.8L360.0,209.4L359.1,209.4L356.1,209.0L353.5,210.0L354.4,211.5L357.5,212.3L358.7,213.3L360.7,215.6L360.9,217.2L360.7,219.7L359.4,222.8L360.3,223.9L361.7,224.1L364.7,224.4L366.8,225.1L369.9,225.3L369.7,223.6L371.5,222.6L374.5,223.1L377.0,223.3L378.8,221.8L377.7,220.5L376.8,218.4L377.9,217.9L377.6,216.4L377.1,215.1L375.5,215.8L375.7,214.6L377.3,212.8L378.7,212.0L378.6,211.0L379.7,208.5L378.3,208.2L376.0,207.3L374.8,207.1L373.0,206.5L372.8,205.6L371.4,205.2L369.4,203.9L368.3,203.2ZM382.9,223.9L383.3,226.2L382.6,228.0L381.3,226.7L381.3,225.4L382.7,224.6Z"/>
<path fill="#78c679" stroke="#5fa05f" d="M369.8,202.5L368.3,203.2L369.4,203.9L371.4,205.2L372.8,205.6L373.0,206.5L374.8,207.1L374.7,206.3L375.5,205.6L375.8,205.2L375.1,204.1L374.5,203.9L374.8,203.1L373.1,202.2L371.6,202.4L369.8,202.5Z"/>
<path fill="#006837" stroke="#00532c" d="M390.8,196.2L390.2,195.8L389.5,194.4L387.4,194.8L386.7,195.6L385.4,196.1L384.4,196.1L384.5,194.9L382.6,194.8L381.4,193.9L379.9,193.7L380.3,195.2L380.7,195.9L379.9,196.2L379.8,196.9L378.8,196.7L376.8,196.8L377.3,197.8L377.0,199.4L376.4,199.7L377.0,200.4L376.4,201.2L375.1,201.4L375.5,202.4L375.1,204.1L375.8,205.2L375.5,205.6L376.2,206.5L376.0,207.3L378.3,208.2L379.7,208.5L378.6,211.0L378.7,212.0L380.6,211.5L382.7,212.2L384.0,212.8L384.5,212.2L385.6,212.6L388.0,212.0L389.7,212.3L389.6,211.4L389.1,210.8L390.4,209.6L391.2,209.1L389.4,207.7L388.1,206.6L388.3,206.2L387.4,205.2L389.1,204.9L390.1,204.2L391.6,203.4L392.7,203.8L393.0,203.2L392.2,201.2L391.9,199.7L390.9,198.8L391.3,197.8L390.8,196.2Z"/>
<path fill="#31a354" stroke="#27824a" d="M377.6,216.4L377.1,215.1L375.5,215.8L375.7,214.6L377.3,212.8L378.7,212.0L380.6,211.5L382.7,212.2L382.7,213.3L384.6,213.8L384.5,214.7L383.9,215.5L382.3,215.0L381.7,216.5L380.4,215.1L379.4,216.3L377.6,216.4Z"/>
<path fill="#78c679" stroke="#5fa05f" d="M378.8,221.8L380.3,221.3L381.7,220.2L384.0,221.1L384.7,222.6L385.2,224.0L386.5,225.4L387.9,226.2L388.9,227.1L390.7,228.4L392.3,228.4L393.4,229.4L393.5,230.1L394.5,229.9L395.1,231.1L396.2,231.5L397.3,233.2L397.8,234.5L397.1,235.1L396.8,236.3L396.8,236.8L397.8,237.0L398.7,235.0L399.9,234.2L398.3,232.4L398.5,231.4L399.5,230.3L401.2,231.1L402.3,232.1L402.5,231.4L401.4,229.9L399.2,228.9L396.8,227.7L397.3,226.7L395.0,226.7L392.5,224.6L391.4,222.3L388.8,220.6L389.1,219.0L388.8,217.7L390.2,216.9L391.6,217.2L391.2,216.3L390.7,215.6L391.3,214.9L388.6,214.3L388.0,213.5L386.1,213.7L384.6,213.8L384.5,214.7L383.9,215.5L382.3,215.0L381.7,216.5L380.4,215.1L379.4,216.3L377.6,216.4L377.9,217.9L376.8,218.4L377.7,220.5L378.8,221.8ZM389.9,236.8L391.8,236.3L396.5,236.0L395.7,238.3L396.2,239.4L395.8,240.3L394.3,239.9L392.3,238.8L390.3,238.0ZM380.6,229.3L382.6,228.4L384.0,230.3L383.7,233.7L382.2,234.5L381.1,234.0L381.0,230.8Z"/>
<path fill="#78c679" stroke="#5fa05f" d="M391.6,217.2L391.3,217.5L391.9,217.5L393.3,217.0L394.7,217.4L395.5,216.5L395.3,215.6L397.1,214.9L396.8,214.5L396.1,213.9L395.2,214.3L393.9,214.6L393.0,215.1L391.3,214.9L390.7,215.6L391.2,216.3L391.6,217.2Z"/>
<path fill="#ffffcc" stroke="#c8c8a0" d="M392.7,203.8L391.6,203.4L390.1,204.2L389.1,204.9L387.4,205.2L388.3,206.2L388.1,206.6L389.4,207.7L391.2,209.1L392.9,209.5L393.4,208.5L395.7,209.1L397.5,209.5L399.3,208.6L401.1,207.2L400.4,206.2L399.1,205.9L398.6,205.2L397.0,205.2L395.8,204.7L395.5,204.3L393.7,203.9L392.7,203.8Z"/>
<path fill="#006837" stroke="#00532c" d="M401.1,194.8L399.3,194.9L398.6,193.9L397.8,193.9L395.1,194.7L394.2,195.3L390.8,196.2L391.3,197.8L390.9,198.8L391.9,199.7L392.2,201.2L393.0,203.2L392.7,203.8L393.7,203.9L395.5,204.3L395.8,204.7L397.0,205.2L398.6,205.2L399.1,205.9L400.4,206.2L401.1,207.2L402.3,207.0L403.7,208.0L406.6,207.3L408.6,208.2L408.7,207.1L409.3,206.2L411.1,204.4L411.2,203.8L410.0,202.2L409.8,200.7L408.9,200.2L410.0,198.4L408.9,196.1L407.4,195.1L401.1,194.8Z"/>
<path fill="#006837" stroke="#00532c" d="M403.6,192.7L401.8,193.6L401.1,194.8L407.4,195.1L407.1,193.7L404.2,192.8L403.6,192.7Z"/>
<path fill="#31a354" stroke="#27824a" d="M403.4,190.8L403.6,192.7L404.2,192.8L407.1,193.7L407.4,195.1L408.9,196.1L410.7,196.2L412.7,195.2L413.0,193.8L414.4,193.1L414.2,191.8L412.9,191.1L410.6,189.9L409.1,190.3L405.3,190.0L403.4,190.8Z"/>
<path fill="#006837" stroke="#00532c" d="M414.2,191.8L414.4,193.1L413.0,193.8L412.7,195.2L410.7,196.2L408.9,196.1L410.0,198.4L408.9,200.2L409.8,200.7L410.0,202.2L412.6,201.2L417.1,201.9L421.3,202.4L423.9,202.7L425.9,200.7L424.6,197.9L427.0,197.3L424.9,195.7L422.7,193.9L422.5,192.0L419.4,191.1L416.9,190.6L414.2,191.8Z"/>
<path fill="#78c679" stroke="#5fa05f" d="M424.4,217.8L425.3,216.5L426.2,214.9L428.8,214.9L429.0,215.9L432.4,215.8L430.3,217.8L432.1,218.2L432.5,219.7L434.1,220.0L436.4,218.7L438.5,218.6L438.5,217.5L436.5,217.7L435.1,215.9L435.8,214.9L438.5,214.2L439.8,213.5L441.2,213.3L441.2,212.0L444.3,211.4L443.7,209.5L443.8,207.0L439.4,206.2L438.2,205.2L434.3,204.9L431.3,201.7L429.7,200.0L425.9,200.7L423.9,202.7L421.3,202.4L417.1,201.9L412.6,201.2L410.0,202.2L411.2,203.8L411.1,204.4L409.3,206.2L408.7,207.1L408.6,208.2L408.0,210.0L409.7,211.2L413.8,211.7L417.2,210.4L419.4,209.9L422.1,211.2L422.7,212.4L424.9,215.1L422.7,216.1L421.4,217.5L424.4,217.8Z"/>
<path fill="#006837" stroke="#00532c" d="M398.0,211.0L399.5,211.7L401.3,211.5L401.8,210.9L403.6,210.6L405.3,209.6L408.0,210.0L409.7,211.2L408.0,212.6L406.7,215.1L404.8,215.9L402.1,216.4L399.5,216.6L397.1,214.9L396.8,214.5L396.1,213.9L396.9,213.6L396.7,212.6L398.0,211.8L398.0,211.0Z"/>
<path fill="#c2e699" stroke="#9bb87a" d="M404.8,215.9L407.6,218.2L407.5,219.1L409.8,219.5L410.3,220.8L409.9,222.0L411.3,223.3L410.3,225.7L408.6,225.8L408.9,224.6L408.0,223.6L406.3,223.3L405.8,224.2L403.3,222.4L404.0,221.3L403.0,220.2L403.2,219.0L402.5,219.1L403.3,218.2L402.4,217.4L402.1,216.4L404.8,215.9Z"/>
<path fill="#31a354" stroke="#27824a" d="M401.9,225.1L402.9,225.8L404.1,226.8L404.5,225.0L405.4,224.9L405.8,224.2L403.3,222.4L402.3,223.2L401.9,223.9L401.9,225.1Z"/>
<path fill="#31a354" stroke="#27824a" d="M422.1,226.4L420.9,225.1L421.7,224.6L421.5,223.3L422.8,221.9L419.3,220.9L416.4,222.2L414.3,221.9L411.1,221.8L410.3,220.8L409.9,222.0L411.3,223.3L410.3,225.7L411.7,228.1L414.9,227.6L416.5,228.4L418.3,228.1L418.8,227.2L420.0,226.2L422.1,226.4Z"/>
<path fill="#31a354" stroke="#27824a" d="M333.7,263.8L334.4,263.1L337.9,261.6L340.5,259.4L341.8,256.7L341.6,253.8L342.8,251.7L344.6,249.2L346.6,248.3L348.2,247.3L349.8,244.1L350.3,242.6L351.7,242.3L354.7,244.0L356.8,243.9L358.4,244.4L359.3,246.2L359.5,249.1L360.1,250.7L360.4,252.2L357.5,252.2L355.3,253.4L355.1,255.4L352.3,257.2L350.5,258.8L347.4,259.0L343.9,261.1L343.8,263.8L333.7,263.8Z"/>
<path fill="#006837" stroke="#00532c" d="M358.4,244.4L361.8,242.8L363.4,242.2L366.0,240.7L369.8,239.9L371.8,239.7L374.2,240.1L378.1,239.7L379.9,239.7L381.8,239.6L380.9,240.7L381.2,242.8L381.1,245.6L379.6,247.8L381.4,251.2L383.1,252.2L384.3,257.1L385.0,260.3L385.4,262.9L385.0,264.8L385.3,266.3L384.2,267.6L385.6,270.0L386.2,271.8L389.2,272.6L390.2,274.7L380.2,281.6L376.4,285.3L372.9,286.0L370.4,286.3L370.3,284.7L369.3,284.2L367.9,283.5L367.3,282.2L352.1,270.9L343.8,264.8L343.8,263.8L343.9,261.1L347.4,259.0L350.5,258.8L352.3,257.2L355.1,255.4L355.3,253.4L357.5,252.2L360.4,252.2L360.1,250.7L359.5,249.1L359.3,246.2L358.4,244.4Z"/>
<path fill="#006837" stroke="#00532c" d="M418.6,253.4L423.3,254.2L427.2,255.5L429.2,254.6L430.2,253.8L431.5,253.5L433.4,253.8L434.5,254.4L435.8,254.8L437.8,254.7L438.7,254.3L440.7,259.0L440.3,260.6L440.0,262.9L439.6,263.7L438.0,262.3L436.5,260.3L435.3,257.8L435.1,259.0L435.9,260.6L437.2,262.4L438.7,264.9L440.0,267.9L441.6,270.6L443.1,273.7L443.4,275.5L446.6,278.6L419.7,278.6L418.7,259.7L417.9,257.3L418.6,253.4Z"/>
<path fill="#31a354" stroke="#27824a" d="M366.0,320.2L364.8,321.0L362.7,321.6L360.3,322.8L358.3,323.7L356.0,322.8L356.7,322.0L355.8,318.9L357.4,314.7L356.9,311.3L356.6,307.4L361.8,307.4L362.8,307.1L363.9,309.2L364.1,311.3L364.5,314.4L364.3,316.8L364.7,317.8L366.0,320.2Z"/>
<path fill="#78c679" stroke="#5fa05f" d="M441.6,325.1L439.3,325.9L437.0,326.7L435.2,326.2L434.4,327.0L434.2,329.8L435.4,330.5L433.6,333.0L432.9,333.8L432.3,334.8L431.5,337.7L431.5,339.7L433.6,338.9L441.5,338.7L441.7,335.5L442.8,333.2L444.0,331.1L442.7,327.7L442.5,326.4Z"/>
<path fill="#31a354" stroke="#27824a" d="M430.1,343.3L432.2,342.4L433.6,342.4L434.2,344.7L433.3,346.0L432.3,347.7L431.0,347.7L430.6,344.7Z"/>
<path fill="#ffffcc" stroke="#c8c8a0" d="M438.9,360.7L441.3,360.9L442.5,362.2L442.6,364.9L443.4,366.3L442.6,369.0L442.3,371.1L443.1,371.5L445.2,375.0L444.9,377.9L443.7,378.4L443.6,380.9L442.8,379.8L441.7,378.7L442.0,375.3L442.3,374.0L441.6,373.7L439.2,372.7L438.1,371.7L438.8,369.0L439.6,368.8L439.6,366.4L439.5,364.6L440.2,362.8L439.7,361.2Z"/>
<path fill="#006837" stroke="#00532c" d="M399.8,410.9L398.2,409.0L397.1,405.8L396.5,401.4L395.9,396.1L396.0,395.3L393.5,390.7L392.0,385.8L390.0,381.2L394.0,380.5L395.1,381.6L405.1,381.6L411.9,383.0L416.5,382.1L418.4,381.8L420.7,382.6L418.9,383.0L416.8,384.5L416.2,383.2L410.9,383.9L410.6,393.6L408.4,393.6L408.1,400.8L407.7,410.3L405.4,411.8L401.9,411.1L402.4,409.8L399.8,410.9Z"/>
<path fill="#ffffcc" stroke="#c8c8a0" d="M408.1,400.8L408.4,393.6L410.6,393.6L410.9,383.9L416.2,383.2L416.8,384.5L418.9,383.0L420.7,382.6L420.7,384.5L422.2,387.1L425.0,389.7L425.9,391.3L426.5,392.3L429.5,394.1L427.1,395.2L424.0,397.9L423.6,399.6L421.4,400.8L420.6,403.0L414.8,402.2L412.5,404.8L409.5,406.3Z"/>
<path fill="#31a354" stroke="#27824a" d="M420.7,382.6L424.6,383.2L429.1,377.9L432.7,376.9L434.6,377.9L438.3,379.8L438.3,383.2L438.1,384.5L437.5,385.8L438.0,387.9L436.7,391.8L433.9,394.6L429.5,394.1L426.5,392.3L425.9,391.3L425.0,389.7L422.2,387.1L420.7,384.5Z"/>
<path fill="#006837" stroke="#00532c" d="M432.1,406.1L432.9,403.4L433.6,403.3L434.8,403.9L435.0,406.3L433.1,407.5L432.3,406.3Z"/>
<path fill="#006837" stroke="#00532c" d="M493.0,389.2L493.6,388.2L494.2,388.9L493.7,389.7Z"/>
<path fill="#006837" stroke="#00532c" d="M665.3,160.6L661.4,159.7L655.8,158.8L650.5,158.6L645.9,158.1L646.7,159.0L642.9,159.0L640.2,159.4L632.2,159.2L627.8,158.3L620.5,156.2L613.4,156.4L607.2,154.9L598.2,153.2L588.5,152.2L588.3,153.6L585.5,155.1L579.5,154.9L577.3,156.4L572.9,154.5L572.7,154.8L569.8,152.3L564.7,150.9L559.3,150.4L559.6,151.9L554.9,151.9L543.3,150.9L540.5,149.2L535.7,149.8L532.0,151.5L531.1,149.2L536.0,146.2L535.2,145.0L525.3,143.8L518.7,142.4L515.7,144.0L511.5,145.6L505.8,146.0L500.5,146.8L498.6,148.8L494.5,150.5L490.9,150.9L496.7,154.0L492.1,153.4L488.8,153.2L482.2,151.9L483.9,154.0L484.1,156.2L486.4,158.3L487.4,160.5L489.0,161.4L493.0,162.8L495.3,163.7L492.3,163.0L488.8,162.8L489.4,164.3L488.1,166.6L486.3,165.7L487.0,163.7L485.7,161.6L485.5,159.4L483.2,157.3L481.4,155.1L480.2,152.8L474.4,151.1L474.0,154.0L472.8,156.6L474.9,159.2L476.6,160.8L471.2,160.1L463.8,158.8L464.2,161.2L459.3,161.4L454.5,162.1L453.1,160.8L448.0,162.5L442.0,162.5L443.1,165.2L439.7,165.2L436.1,161.3L438.3,163.0L439.6,166.4L439.5,167.3L435.7,166.1L432.9,168.2L434.6,170.6L430.3,171.2L429.7,172.1L424.5,170.7L423.2,168.0L420.1,165.9L418.7,164.7L423.5,165.9L429.9,167.0L433.8,165.7L433.9,164.6L430.6,162.4L424.4,160.5L419.2,159.7L416.3,158.4L414.4,158.8L413.3,159.7L411.7,160.4L411.5,162.3L414.2,163.4L413.2,165.2L415.6,168.0L415.4,170.0L417.3,171.6L419.7,174.4L417.5,177.0L414.2,180.0L415.7,179.6L418.1,181.1L418.9,181.4L416.7,181.5L415.2,182.6L414.4,184.2L415.3,186.5L414.8,187.2L415.8,187.8L415.7,188.9L416.9,190.6L419.4,191.1L422.5,192.0L422.7,193.9L424.9,195.7L427.0,197.3L424.6,197.9L425.9,200.7L429.7,200.0L431.3,201.7L434.3,204.9L438.2,205.2L439.4,206.2L443.8,207.0L443.7,209.5L444.3,211.4L441.2,212.0L441.2,213.3L443.6,213.1L441.6,214.3L441.1,216.9L440.4,217.8L438.9,217.9L440.4,219.0L442.3,220.2L444.5,221.0L446.0,222.4L446.7,222.8L452.1,223.3L455.1,224.9L457.3,224.5L459.1,225.1L461.0,226.7L463.1,228.2L464.5,228.5L465.6,226.8L462.6,223.9L461.7,221.5L460.0,219.7L460.1,217.2L462.0,216.4L464.2,215.4L462.5,214.3L457.4,210.0L458.0,205.2L460.3,204.4L463.7,201.7L467.2,202.2L471.7,203.7L478.5,203.2L481.9,204.6L485.5,203.9L481.7,201.2L482.7,198.4L482.8,196.2L489.1,194.9L495.9,192.7L501.0,195.4L506.4,197.2L512.0,194.9L515.5,197.7L522.6,203.9L528.9,203.4L534.6,207.0L539.2,208.2L540.1,208.1L543.0,206.2L547.1,203.9L553.6,206.1L559.4,206.5L559.4,204.7L555.6,201.4L558.3,200.7L566.0,202.7L567.3,204.4L575.1,205.2L581.6,207.7L586.6,207.7L592.2,205.3L597.2,206.3L600.0,207.2L601.7,205.2L600.6,199.7L598.9,198.9L600.1,197.7L604.3,197.0L610.4,198.9L618.3,205.4L619.2,206.5L623.7,207.5L629.7,211.8L632.7,211.8L636.5,209.9L637.1,212.6L638.4,218.4L635.5,218.2L637.3,222.6L637.5,225.4L637.9,225.7L639.2,223.6L641.7,224.4L644.5,221.8L645.6,218.7L646.1,214.9L646.3,212.3L646.2,208.5L643.7,204.7L641.9,200.4L638.6,198.2L634.0,195.2L630.9,196.4L627.8,194.4L624.6,194.2L625.1,191.0L626.3,189.9L627.1,186.1L628.8,182.9L634.1,183.0L638.5,182.7L642.4,182.4L647.0,183.7L649.4,182.5L648.0,180.1L648.1,178.9L650.4,177.0L653.4,176.5L657.0,179.9L658.2,178.2L657.7,175.6L659.2,175.4L661.8,179.4L660.5,180.3L662.0,184.9L659.9,188.3L663.1,193.5L667.9,198.4L671.6,200.9L675.1,203.7L675.7,200.9L674.0,198.4L676.5,198.2L673.5,195.4L676.3,194.7L673.3,192.0L674.8,190.5L670.4,186.6L665.9,183.5L665.8,181.5L669.0,180.8L677.3,181.4L676.3,180.3L677.3,178.9L679.4,177.0L682.4,175.3L686.1,175.8L683.9,174.0L675.3,170.1L677.6,170.5L678.9,169.6ZM47.5,169.6L51.8,168.4L53.3,166.8L54.7,168.2L54.4,170.2L57.5,170.9L59.4,170.7L65.2,168.2L69.0,167.0L68.5,165.2L63.5,165.0L64.1,164.1L62.1,162.1L61.0,160.6ZM639.6,194.9L643.9,198.4L647.0,202.2L650.9,205.9L655.5,209.0L653.5,211.0L656.8,214.1L655.4,214.3L655.4,216.4L652.4,212.3L650.0,208.5L646.7,204.7L643.2,200.9L640.3,197.2ZM447.6,156.2L452.0,156.8L457.9,157.0L453.0,154.0L451.5,151.3L453.2,148.8L456.1,146.2L462.1,145.0L467.4,144.0L462.7,143.8L456.0,145.0L451.0,146.6L449.3,148.8L448.3,151.3L447.3,154.0ZM502.6,140.0L507.9,139.1L515.7,140.0L515.3,141.9L510.8,141.9ZM500.9,138.1L497.2,136.4L501.0,136.1L506.6,138.1ZM513.1,141.9L518.5,140.9L519.5,142.3L515.5,142.6ZM574.9,147.0L576.8,145.8L582.2,145.8L587.7,146.8L595.3,147.2L595.4,148.2L587.3,148.0L582.2,148.2L578.6,148.4ZM585.3,150.9L590.6,150.7L591.0,151.5L586.7,151.3ZM589.2,146.8L596.4,147.4L594.6,148.2ZM655.5,156.0L656.3,155.1L658.5,156.4ZM67.9,156.4L70.1,155.1L73.4,155.5L71.1,156.4ZM430.3,137.6L434.0,136.8L438.7,137.4L433.5,138.1ZM444.2,160.5L445.8,159.4L447.6,160.5L446.0,161.2Z"/>
<path fill="#006837" stroke="#00532c" d="M440.8,258.9L440.8,259.4L443.4,259.8L444.7,258.1L446.3,257.7L447.3,256.4L444.8,253.8L449.4,252.1L448.2,248.9L444.1,251.7L441.7,250.5L441.3,251.4L441.4,254.8L440.8,258.9Z"/>
<path fill="#006837" stroke="#00532c" d="M446.7,222.8L449.0,223.9L450.8,226.1L450.9,227.7L452.9,227.9L455.1,228.8L458.3,228.2L461.8,228.8L461.0,226.7L459.1,225.1L457.3,224.5L455.1,224.9L452.1,223.3L446.7,222.8Z"/>
<path fill="#006837" stroke="#00532c" d="M455.1,228.8L458.3,228.2L459.7,230.1L461.0,231.1L460.3,231.9L462.4,232.9L462.7,234.5L461.8,234.5L460.2,232.9L458.6,232.4L456.0,231.4Z"/>
<path fill="#006837" stroke="#00532c" d="M478.5,271.8L479.1,271.0L478.9,270.0L478.8,268.4L478.0,267.8L477.5,268.0L477.0,269.5L477.4,271.4L478.5,271.8Z"/>
<path fill="#ffffcc" stroke="#c8c8a0" d="M541.3,260.8L542.6,257.2L545.1,257.6L548.7,259.8L550.4,260.7L552.6,261.4L555.0,263.2L556.9,263.1L559.6,263.2L560.4,267.1L557.9,267.1L555.2,266.6L552.1,264.8L550.9,264.2L549.2,264.6L546.0,263.2L543.6,261.9Z"/>
<path fill="#ffffcc" stroke="#c8c8a0" d="M572.2,281.9L573.8,283.6L575.9,285.7L577.6,287.8L578.4,290.9L578.2,294.4L580.8,295.1L582.6,293.0L583.9,290.9L584.8,292.5L585.8,293.1L586.5,296.1L587.7,299.5L589.0,303.7L589.6,307.4L589.6,310.0L590.2,309.5L591.8,305.3L590.6,303.2L590.2,301.6L587.6,296.4L587.9,292.7L585.6,289.9L584.5,287.6L585.1,285.0L587.7,284.4L588.7,283.1L590.0,282.9L591.0,281.8L591.9,279.8L589.2,279.4L587.2,278.2L587.6,276.1L586.1,275.5L585.3,273.1L583.0,273.4L582.7,271.3L584.4,268.4L583.5,264.2L582.2,263.7L580.1,262.4L579.9,265.3L577.8,264.8L576.0,266.6L576.5,268.2L575.5,270.0L575.2,273.8L573.4,273.4L573.1,276.0L573.7,278.1L572.4,278.7L572.4,278.9L572.1,280.4L572.2,281.9Z"/>
<path fill="#31a354" stroke="#27824a" d="M589.6,310.0L589.2,312.6L589.3,314.7L589.4,315.7L591.1,316.5L592.8,318.2L593.8,319.3L595.6,319.8L596.2,321.2L597.8,321.0L598.4,319.8L596.4,318.1L594.8,317.3L593.2,313.9L592.9,311.8L591.5,312.1L591.0,308.7L592.1,305.3L592.3,303.2L592.2,301.1L593.4,300.8L594.3,301.6L594.4,303.1L596.3,302.9L597.6,304.2L599.3,305.7L598.7,304.2L597.9,303.2L597.9,300.6L598.6,299.0L601.1,298.6L603.8,298.6L604.2,296.1L604.3,295.1L602.1,293.0L601.6,290.4L598.3,288.0L596.6,289.2L595.4,288.5L593.4,290.4L592.8,288.0L592.9,284.9L591.0,284.6L591.1,283.5L590.0,282.9L588.7,283.1L587.7,284.4L585.1,285.0L584.5,287.6L585.6,289.9L587.9,292.7L587.6,296.4L590.2,301.6L590.6,303.2L591.8,305.3L590.2,309.5L589.6,310.0Z"/>
<path fill="#006837" stroke="#00532c" d="M661.8,228.0L663.5,230.3L666.0,232.7L666.7,236.0L665.8,236.3L667.4,239.4L667.5,241.3L668.8,242.7L668.5,244.1L667.7,244.9L666.7,243.6L665.9,244.1L665.8,245.7L664.5,244.5L664.4,245.7L661.8,245.7L661.1,244.6L660.7,244.9L662.0,246.6L661.0,247.8L660.4,248.7L658.5,247.5L658.2,246.6L658.3,245.6L656.2,245.4L655.2,245.9L652.4,246.5L651.2,247.4L649.4,247.4L648.9,246.5L649.8,246.1L651.5,243.6L652.1,243.1L654.6,243.2L656.7,242.7L658.4,242.8L657.7,241.5L658.4,239.9L657.8,238.6L658.9,238.1L659.1,239.9L659.6,240.1L661.2,239.0L661.9,237.0L662.2,234.5L660.5,231.9L660.3,230.3L659.8,228.5L661.3,229.4L661.7,228.5ZM659.1,228.0L659.9,227.1L658.1,225.8L659.5,225.7L661.0,225.0L664.8,226.6L664.5,224.9L665.6,224.0L667.8,223.0L665.1,220.4L663.5,221.3L659.8,219.7L656.0,217.4L655.9,218.2L657.6,220.5L658.1,221.4L658.7,223.2L656.4,223.0L656.5,224.9L657.9,226.7ZM649.4,247.5L651.5,248.3L652.6,250.1L652.7,252.7L652.5,254.3L651.9,255.1L650.5,254.3L649.7,252.2L648.2,250.7L647.0,249.0L648.5,248.2ZM652.4,249.0L653.7,247.0L655.7,246.3L657.2,246.7L657.8,247.8L657.3,249.2L655.6,248.6L655.2,250.6L653.8,250.0Z"/>
<path fill="#006837" stroke="#00532c" d="M637.4,287.8L640.9,287.8L641.8,290.9L640.7,294.3L641.4,297.7L644.4,299.3L646.8,300.0L647.5,302.1L647.6,303.3L645.7,302.1L644.0,301.6L643.5,299.8L641.7,299.8L640.3,300.4L639.1,299.0L639.7,298.0L638.7,298.3L637.5,296.9L636.5,293.4L637.7,294.2L637.3,290.2ZM651.6,310.5L654.0,313.9L654.7,317.0L653.9,319.6L652.4,317.7L652.0,321.6L649.3,319.9L648.8,318.9L649.2,317.3L647.3,316.8L644.3,318.1L644.2,315.5L646.9,313.6L648.1,314.9L649.0,314.5L649.9,313.9L650.6,312.6ZM648.1,303.4L650.4,303.2L651.7,306.8L650.1,307.1L649.5,305.3ZM648.4,306.3L650.1,306.6L650.8,309.5L650.0,310.0L648.9,308.1ZM644.5,310.5L646.0,312.5L646.7,311.5L646.7,307.6L645.4,307.6ZM646.6,311.3L647.2,310.0L647.9,306.7L647.8,309.5ZM647.7,310.8L649.5,309.7L649.3,310.8ZM642.8,305.0L644.9,305.8L645.7,306.8L644.5,308.3L643.3,308.8L643.3,307.4ZM638.7,301.1L640.7,301.0L641.7,303.2L641.1,304.2L639.8,302.9ZM632.8,314.2L634.5,312.1L636.5,308.9L637.7,306.4L637.4,308.1L636.0,310.8L633.9,313.6ZM642.6,303.4L644.2,303.7L643.2,304.7ZM645.6,303.4L647.6,304.7L646.7,305.0Z"/>
<path fill="#006837" stroke="#00532c" d="M582.8,321.6L587.0,322.5L590.9,326.2L594.6,329.1L597.2,331.7L599.1,333.0L601.2,334.5L602.8,336.4L602.1,338.7L604.2,338.9L605.3,342.1L607.9,344.0L607.4,347.9L607.1,351.4L605.8,351.3L604.1,351.5L602.7,349.7L599.0,346.0L596.3,342.4L594.8,338.6L592.0,335.3L591.1,331.5L588.4,329.8L584.8,325.3ZM607.4,351.5L609.4,352.1L612.7,352.4L613.3,353.8L617.4,354.1L618.7,352.8L622.5,354.1L622.8,354.9L625.4,356.2L626.6,356.5L626.7,359.0L623.2,357.8L618.6,357.7L614.1,356.4L611.1,356.1L608.2,355.3L608.4,354.4L605.6,353.9ZM634.4,325.2L634.5,327.5L635.5,330.1L637.8,333.5L635.3,334.0L634.4,336.1L634.4,337.7L632.8,339.5L631.8,342.1L631.3,345.0L628.4,346.8L627.5,347.0L627.5,345.0L623.9,344.5L621.1,345.4L617.5,343.7L617.0,340.9L615.2,336.2L614.7,333.8L616.3,330.7L616.2,333.5L618.3,333.9L621.3,333.5L622.2,332.3L625.6,332.8L627.5,332.3L628.3,330.9L628.9,328.8L629.9,327.1L629.8,325.1L630.7,324.9ZM652.2,331.9L650.6,335.1L647.2,334.8L642.5,334.9L640.4,336.1L640.3,337.7L641.9,339.8L643.9,338.5L648.0,338.5L648.2,338.1L646.6,340.3L644.1,341.2L643.4,341.3L645.4,344.5L646.0,346.6L646.6,347.6L644.5,348.8L643.3,348.1L642.2,343.0L640.5,344.0L640.8,348.7L640.7,350.7L638.4,350.5L638.4,349.6L638.9,345.3L637.6,343.2L638.6,339.5L639.8,338.3L639.7,335.6L642.0,333.4L644.8,333.5L648.3,333.8ZM626.9,357.3L629.4,357.8L628.1,359.1ZM629.9,357.8L631.7,358.1L630.6,359.5ZM631.9,358.1L634.5,357.3L637.4,358.3L635.7,359.1L632.2,359.6ZM638.8,358.1L642.7,358.3L646.2,357.8L645.6,358.8L641.5,359.5L639.0,359.1ZM636.7,360.9L639.5,360.7L640.7,362.5L638.9,363.0ZM646.9,363.0L648.3,360.7L650.5,359.5L650.8,360.2L649.0,362.6ZM657.5,333.8L658.4,330.4L659.6,332.2L660.5,332.2L658.7,334.8L660.3,335.3L658.7,337.9L658.0,336.1ZM658.5,344.2L662.0,343.4L665.0,344.7L663.1,345.3L660.3,345.0ZM653.9,344.5L656.4,344.5L656.1,346.0L654.3,345.8ZM650.1,340.6L652.4,340.8L650.5,341.3ZM672.4,351.8L673.8,350.7L672.9,353.9ZM664.7,356.2L666.4,354.9L666.0,357.0ZM606.0,340.6L609.2,340.3L609.4,344.0L607.6,343.2ZM611.5,342.9L613.1,343.4L612.1,344.5ZM651.7,357.5L654.6,356.0L654.8,356.8L652.7,357.0ZM688.6,342.9L684.0,341.3L681.3,340.0L677.7,341.9L674.6,344.7L672.9,342.4L673.0,338.5L668.8,337.0L665.6,338.2L666.3,340.0L669.7,342.4L671.5,341.9L672.1,343.7L669.6,343.7L668.4,344.0L669.5,346.6L671.4,345.5L675.0,347.6L679.0,348.9L681.6,351.3L682.8,354.4L680.9,355.7L681.9,357.8L685.1,357.3L687.4,359.9ZM676.0,337.9L677.4,338.5L677.8,339.2L676.7,339.0ZM664.2,336.4L666.1,336.9L664.7,337.2Z"/>
<path fill="#31a354" stroke="#27824a" d="M690.4,364.1L692.0,369.6L692.1,373.7L693.9,374.0L695.5,375.3L695.1,378.7L695.9,381.8L695.6,385.5L698.4,386.8L700.3,389.4L701.1,394.6L703.5,395.2L702.9,397.5L704.8,400.7L706.3,403.8L705.9,407.7L705.0,410.9L701.6,416.1L698.5,420.5L694.0,424.4L691.4,427.6L687.8,431.5L686.0,434.1L682.0,434.9L676.0,438.3L674.1,436.4L673.4,436.2L670.3,437.5L668.1,436.4L665.8,435.5L664.6,433.3L665.6,429.9L663.0,429.1L664.8,427.1L665.1,423.7L662.5,427.3L661.1,428.1L659.3,427.3L658.4,427.3L658.8,424.4L657.6,421.6L655.1,419.7L652.5,418.4L647.5,419.0L640.5,420.5L635.6,422.4L633.1,424.7L628.9,424.4L625.2,424.8L619.9,427.7L615.8,427.1L614.3,425.9L615.1,423.9L616.7,423.1L618.0,419.7L618.0,414.5L618.2,410.9L617.2,405.4L616.6,404.4L618.2,404.1L618.2,399.9L620.0,395.2L621.2,393.1L622.2,393.1L627.5,389.9L632.0,389.2L637.7,387.3L641.2,383.4L641.7,380.5L644.7,381.6L645.2,378.4L647.8,376.4L649.5,374.0L653.4,372.0L655.8,374.8L658.1,374.9L659.7,374.8L661.5,370.1L663.0,368.5L667.0,367.7L665.9,365.6L667.6,365.1L669.4,366.9L673.2,368.0L675.0,368.0L677.1,368.3L676.0,370.9L674.4,370.9L672.7,375.0L675.4,377.7L678.3,379.8L680.2,381.5L683.8,381.8L685.8,378.2L687.4,372.7L687.7,369.0L689.4,364.9ZM669.9,442.4L672.7,443.7L676.8,442.7L675.4,445.8L672.5,448.9L669.5,449.9L668.0,449.7L668.1,447.3L669.1,443.7ZM659.8,429.4L661.9,429.1L662.6,429.9L660.9,430.3ZM662.4,365.9L664.6,365.4L664.9,366.4L662.8,366.9Z"/>
<path fill="#006837" stroke="#00532c" d="M739.9,426.0L740.8,427.6L742.0,428.4L741.3,430.7L742.5,431.5L741.9,434.1L743.8,435.1L746.2,434.4L747.1,434.6L745.3,436.7L743.2,438.5L740.5,439.6L739.0,441.4L736.1,443.2L733.0,444.7L732.4,444.0L734.8,441.9L735.5,440.3L734.0,439.0L736.8,437.5L739.0,434.9L739.7,432.5L739.6,429.1ZM729.7,441.9L729.2,443.7L731.7,443.5L730.1,445.3L725.8,448.4L723.3,450.4L719.1,451.7L715.7,454.8L712.9,456.6L709.3,457.7L707.4,457.1L705.6,456.1L709.1,453.5L713.5,450.9L718.9,448.6L723.4,446.3L727.7,442.8ZM706.1,458.1L707.1,458.4L706.1,459.2Z"/>
<path fill="#006837" stroke="#00532c" d="M767.0,381.6L769.1,381.3L769.8,382.9L767.8,383.9L766.5,383.4ZM770.7,379.5L773.6,378.4L772.6,380.0Z"/>
<path fill="#ffffcc" stroke="#c8c8a0" d="M723.6,353.6L725.8,355.4L724.7,355.2ZM725.6,357.0L728.3,356.0L730.8,358.3L728.3,358.1ZM730.1,360.4L732.8,360.9L731.6,362.0ZM732.9,358.1L734.2,360.7L733.3,360.4ZM733.7,363.0L735.9,364.1L734.7,364.1Z"/>
</g>
</g>
<text x="268.5" y="530.0" font-family="'Liberation Sans', sans-serif" font-size="13" font-weight="normal" fill="#5b5b5b" text-anchor="middle" textLength="46.0" lengthAdjust="spacingAndGlyphs">No data</text>
<rect x="244.5" y="537" width="48" height="11.3" fill="url(#h)" stroke="#bbb" stroke-width="0.6"/>
<path d="M268.5,533.5V537" stroke="#999" stroke-width="0.6"/>
<rect x="312.2" y="537" width="58.6" height="11.3" fill="#ffffcc" stroke="#999" stroke-width="0.4"/>
<rect x="370.8" y="537" width="58.5" height="11.3" fill="#c2e699" stroke="#999" stroke-width="0.4"/>
<rect x="429.3" y="537" width="58.6" height="11.3" fill="#78c679" stroke="#999" stroke-width="0.4"/>
<rect x="487.9" y="537" width="58.5" height="11.3" fill="#31a354" stroke="#999" stroke-width="0.4"/>
<rect x="546.4" y="537" width="58.6" height="11.3" fill="#006837" stroke="#999" stroke-width="0.4"/>
<path d="M312.2,533.5V537" stroke="#999" stroke-width="0.6"/>
<text x="312.2" y="530.0" font-family="'Liberation Sans', sans-serif" font-size="13" font-weight="normal" fill="#5b5b5b" text-anchor="middle">0</text>
<path d="M370.8,533.5V537" stroke="#999" stroke-width="0.6"/>
<text x="370.8" y="530.0" font-family="'Liberation Sans', sans-serif" font-size="13" font-weight="normal" fill="#5b5b5b" text-anchor="middle">0.2</text>
<path d="M429.3,533.5V537" stroke="#999" stroke-width="0.6"/>
<text x="429.3" y="530.0" font-family="'Liberation Sans', sans-serif" font-size="13" font-weight="normal" fill="#5b5b5b" text-anchor="middle">0.4</text>
<path d="M487.9,533.5V537" stroke="#999" stroke-width="0.6"/>
<text x="487.9" y="530.0" font-family="'Liberation Sans', sans-serif" font-size="13" font-weight="normal" fill="#5b5b5b" text-anchor="middle">0.6</text>
<path d="M546.4,533.5V537" stroke="#999" stroke-width="0.6"/>
<text x="546.4" y="530.0" font-family="'Liberation Sans', sans-serif" font-size="13" font-weight="normal" fill="#5b5b5b" text-anchor="middle">0.8</text>
<path d="M605.0,533.5V537" stroke="#999" stroke-width="0.6"/>
<text x="605.0" y="530.0" font-family="'Liberation Sans', sans-serif" font-size="13" font-weight="normal" fill="#5b5b5b" text-anchor="middle">1</text>
<text x="16.6" y="581.0" font-family="'Liberation Sans', sans-serif" font-size="13" font-weight="bold" fill="#636363" text-anchor="start" textLength="23.1" lengthAdjust="spacingAndGlyphs">Data</text>
<text x="44.6" y="581.0" font-family="'Liberation Sans', sans-serif" font-size="13" font-weight="bold" fill="#636363" text-anchor="start" textLength="44.1" lengthAdjust="spacingAndGlyphs">source:</text>
<text x="92.2" y="581.0" font-family="'Liberation Sans', sans-serif" font-size="13" font-weight="normal" fill="#858585" text-anchor="start" textLength="18.5" lengthAdjust="spacingAndGlyphs">UN</text>
<text x="115.8" y="581.0" font-family="'Liberation Sans', sans-serif" font-size="13" font-weight="normal" fill="#858585" text-anchor="start" textLength="33.0" lengthAdjust="spacingAndGlyphs">Office</text>
<text x="153.3" y="581.0" font-family="'Liberation Sans', sans-serif" font-size="13" font-weight="normal" fill="#858585" text-anchor="start" textLength="13.7" lengthAdjust="spacingAndGlyphs">for</text>
<text x="172.1" y="581.0" font-family="'Liberation Sans', sans-serif" font-size="13" font-weight="normal" fill="#858585" text-anchor="start" textLength="44.5" lengthAdjust="spacingAndGlyphs">Disaster</text>
<text x="221.4" y="581.0" font-family="'Liberation Sans', sans-serif" font-size="13" font-weight="normal" fill="#858585" text-anchor="start" textLength="22.2" lengthAdjust="spacingAndGlyphs">Risk</text>
<text x="248.6" y="581.0" font-family="'Liberation Sans', sans-serif" font-size="13" font-weight="normal" fill="#858585" text-anchor="start" textLength="57.7" lengthAdjust="spacingAndGlyphs">Reduction</text>
<text x="568.2" y="580.8" font-family="'Liberation Sans', sans-serif" font-size="13" font-weight="normal" fill="#858585" text-anchor="start" textLength="115.2" lengthAdjust="spacingAndGlyphs">OurWorldinData.org</text>
<text x="683.8" y="580.8" font-family="'Liberation Sans', sans-serif" font-size="13" font-weight="normal" fill="#858585" text-anchor="start" textLength="99.7" lengthAdjust="spacingAndGlyphs">/natural-disasters</text>
<text x="787.0" y="580.8" font-family="'Liberation Sans', sans-serif" font-size="13" font-weight="normal" fill="#858585" text-anchor="start" textLength="4.4" lengthAdjust="spacingAndGlyphs">|</text>
<text x="795.5" y="580.8" font-family="'Liberation Sans', sans-serif" font-size="13" font-weight="normal" fill="#858585" text-anchor="start" textLength="16.8" lengthAdjust="spacingAndGlyphs">CC</text>
<text x="816.1" y="580.8" font-family="'Liberation Sans', sans-serif" font-size="13" font-weight="normal" fill="#858585" text-anchor="start" textLength="14.5" lengthAdjust="spacingAndGlyphs">BY</text>
</svg></body></html>
